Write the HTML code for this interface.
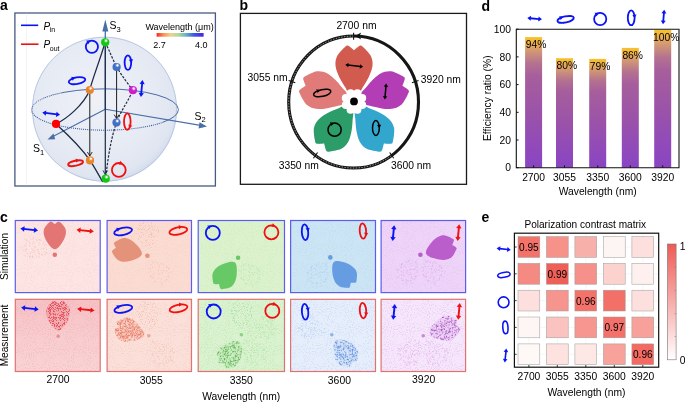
<!DOCTYPE html><html><head><meta charset="utf-8"><style>html,body{margin:0;padding:0;background:#fff;}svg{display:block;will-change:transform;}</style></head><body>
<svg width="685" height="403" viewBox="0 0 685 403" font-family="Liberation Sans, sans-serif">
<defs>
<radialGradient id="sph" cx="0.45" cy="0.42" r="0.6">
 <stop offset="0" stop-color="#eff1f7"/><stop offset="0.6" stop-color="#e7ebf4"/><stop offset="0.9" stop-color="#e0e6f1"/><stop offset="0.975" stop-color="#d5ddee"/><stop offset="1" stop-color="#c8d3ea"/>
</radialGradient>
<linearGradient id="wl" x1="0" x2="1" y1="0" y2="0">
 <stop offset="0" stop-color="#ff2424"/><stop offset="0.15" stop-color="#f89458"/><stop offset="0.3" stop-color="#f0d090"/><stop offset="0.46" stop-color="#b4d6a0"/><stop offset="0.62" stop-color="#68b4c4"/><stop offset="0.8" stop-color="#3a58e4"/><stop offset="1" stop-color="#4a22e0"/>
</linearGradient>
<linearGradient id="bar" x1="0" x2="0" y1="0" y2="1">
 <stop offset="0" stop-color="#f9c224"/><stop offset="0.025" stop-color="#f2b83e"/><stop offset="0.1" stop-color="#d49a72"/><stop offset="0.2" stop-color="#b47290"/><stop offset="0.3" stop-color="#a65e9c"/><stop offset="0.6" stop-color="#9a52aa"/><stop offset="1" stop-color="#8a44c4"/>
</linearGradient>
<linearGradient id="cb" x1="0" x2="0" y1="0" y2="1">
 <stop offset="0" stop-color="#ee5b55"/><stop offset="1" stop-color="#ffffff"/>
</linearGradient>

<radialGradient id="bR" cx="0.6" cy="0.3" r="0.6" fx="0.6" fy="0.3"><stop offset="0" stop-color="#ffffff"/><stop offset="0.12" stop-color="#ffffff" stop-opacity="0.9"/><stop offset="0.3" stop-color="#ff2020"/><stop offset="0.5" stop-color="#ff0000"/><stop offset="1" stop-color="#ff0000"/></radialGradient>
<radialGradient id="bO" cx="0.6" cy="0.3" r="0.6" fx="0.6" fy="0.3"><stop offset="0" stop-color="#ffffff"/><stop offset="0.12" stop-color="#ffffff" stop-opacity="0.9"/><stop offset="0.3" stop-color="#f0a060"/><stop offset="0.5" stop-color="#e8842c"/><stop offset="1" stop-color="#e8842c"/></radialGradient>
<radialGradient id="bG" cx="0.6" cy="0.3" r="0.6" fx="0.6" fy="0.3"><stop offset="0" stop-color="#ffffff"/><stop offset="0.12" stop-color="#ffffff" stop-opacity="0.9"/><stop offset="0.3" stop-color="#50e050"/><stop offset="0.5" stop-color="#12c812"/><stop offset="1" stop-color="#12c812"/></radialGradient>
<radialGradient id="bB" cx="0.6" cy="0.3" r="0.6" fx="0.6" fy="0.3"><stop offset="0" stop-color="#ffffff"/><stop offset="0.12" stop-color="#ffffff" stop-opacity="0.9"/><stop offset="0.3" stop-color="#7898d8"/><stop offset="0.5" stop-color="#4070c4"/><stop offset="1" stop-color="#4070c4"/></radialGradient>
<radialGradient id="bM" cx="0.6" cy="0.3" r="0.6" fx="0.6" fy="0.3"><stop offset="0" stop-color="#ffffff"/><stop offset="0.12" stop-color="#ffffff" stop-opacity="0.9"/><stop offset="0.3" stop-color="#e060e0"/><stop offset="0.5" stop-color="#cc1ccc"/><stop offset="1" stop-color="#cc1ccc"/></radialGradient>
<filter id="spkA" x="-20%" y="-20%" width="140%" height="140%" color-interpolation-filters="sRGB">
  <feTurbulence type="fractalNoise" baseFrequency="0.85" numOctaves="1" seed="3" result="n"/>
  <feColorMatrix in="n" type="matrix" values="0 0 0 0 0  0 0 0 0 0  0 0 0 0 0  12 0 0 0 -5.3" result="m"/>
  <feComposite in="SourceGraphic" in2="m" operator="in" result="c"/>
  <feGaussianBlur in="c" stdDeviation="0.4"/>
</filter>
<filter id="spkB" x="-20%" y="-20%" width="140%" height="140%" color-interpolation-filters="sRGB">
  <feTurbulence type="fractalNoise" baseFrequency="0.9" numOctaves="1" seed="11" result="n"/>
  <feColorMatrix in="n" type="matrix" values="0 0 0 0 0  0 0 0 0 0  0 0 0 0 0  12 0 0 0 -6.9" result="m"/>
  <feComposite in="SourceGraphic" in2="m" operator="in" result="c"/>
  <feGaussianBlur in="c" stdDeviation="0.25"/>
</filter>
<filter id="spkC" x="0" y="0" width="100%" height="100%" color-interpolation-filters="sRGB">
  <feTurbulence type="fractalNoise" baseFrequency="0.95" numOctaves="1" seed="5" result="n"/>
  <feColorMatrix in="n" type="matrix" values="0 0 0 0 0  0 0 0 0 0  0 0 0 0 0  10 0 0 0 -5.5" result="m"/>
  <feComposite in="SourceGraphic" in2="m" operator="in" result="c"/>
  <feGaussianBlur in="c" stdDeviation="0.45"/>
</filter>
<filter id="spkD" x="-20%" y="-20%" width="140%" height="140%" color-interpolation-filters="sRGB">
  <feTurbulence type="fractalNoise" baseFrequency="0.85" numOctaves="1" seed="21" result="n"/>
  <feColorMatrix in="n" type="matrix" values="0 0 0 0 0  0 0 0 0 0  0 0 0 0 0  12 0 0 0 -5.9" result="m"/>
  <feComposite in="SourceGraphic" in2="m" operator="in" result="c"/>
  <feGaussianBlur in="c" stdDeviation="0.4"/>
</filter>
<filter id="spkE" x="-20%" y="-20%" width="140%" height="140%" color-interpolation-filters="sRGB">
  <feTurbulence type="fractalNoise" baseFrequency="0.85" numOctaves="1" seed="33" result="n"/>
  <feColorMatrix in="n" type="matrix" values="0 0 0 0 0  0 0 0 0 0  0 0 0 0 0  12 0 0 0 -6.4" result="m"/>
  <feComposite in="SourceGraphic" in2="m" operator="in" result="c"/>
  <feGaussianBlur in="c" stdDeviation="0.4"/>
</filter>

<linearGradient id="m1g" x1="0" x2="0" y1="0" y2="1"><stop offset="0" stop-color="#f0a0a8" stop-opacity="0.35"/><stop offset="0.6" stop-color="#f0a0a8" stop-opacity="0.1"/><stop offset="1" stop-color="#f0a0a8" stop-opacity="0"/></linearGradient>
</defs>
<text x="0" y="10.4" font-size="14" font-weight="bold">a</text>
<rect x="14.9" y="13" width="200.5" height="173" fill="#fff" stroke="#465a82" stroke-width="1.3"/>
<line x1="26.5" y1="13.6" x2="26.5" y2="185.4" stroke="#ececf0" stroke-width="0.6"/>
<circle cx="104.5" cy="109.2" r="72.5" fill="url(#sph)"/>
<circle cx="104.5" cy="109.2" r="72" fill="none" stroke="#b4c4e2" stroke-width="0.9"/>
<path d="M31.5,109.5 A73.45,20.65 0 0 1 178.4,109.5" fill="none" stroke="#3a5c9c" stroke-width="0.9"/>
<path d="M31.5,109.5 A73.45,20.65 0 0 0 163,122.2" fill="none" stroke="#3a5c9c" stroke-width="1.1" stroke-dasharray="1 1"/>
<path d="M163,122.2 A73.45,20.65 0 0 0 178.4,109.5" fill="none" stroke="#3a5c9c" stroke-width="0.9"/>
<path d="M31.5,109.5 A73.45,20.65 0 0 1 62,93" fill="none" stroke="#e8ecf5" stroke-width="1.1" stroke-dasharray="1 1"/>
<line x1="105.3" y1="109.2" x2="51" y2="137.6" stroke="#4a6ea8" stroke-width="1.1"/>
<polygon points="47.5,139.4 53.5,133.6 55.2,139.2" fill="#4a6ea8"/>
<line x1="105.3" y1="109.2" x2="202" y2="125.6" stroke="#4a6ea8" stroke-width="1.1"/>
<polygon points="207,126.6 199.5,122.2 198.6,128.4" fill="#4a6ea8"/>
<line x1="105.3" y1="109.2" x2="105.3" y2="28" stroke="#4a6ea8" stroke-width="1.3"/>
<polygon points="105.3,19.5 102.3,31.5 108.3,31.5" fill="#4a6ea8"/>
<text x="109.6" y="29" font-size="10.5">S<tspan font-size="7.5" dy="2.6">3</tspan></text>
<text x="194.6" y="119.6" font-size="10.5">S<tspan font-size="7.5" dy="2.6">2</tspan></text>
<text x="32.9" y="152.3" font-size="10.5">S<tspan font-size="7.5" dy="2.6">1</tspan></text>
<path d="M56,124 C66,119 83,106 89.8,90 C92,80 100,60 105,42.6" fill="none" stroke="#1c2a44" stroke-width="1.3"/>
<path d="M56,124 C66,133 82,149 90,160.4 C95,168 99.5,176.5 102.8,182" fill="none" stroke="#1c2a44" stroke-width="1.3"/>
<path d="M105.2,42.3 C110,52 113,60 116.7,67 C122,76 128,84 132.9,90.2 C128,102 120,112 116.5,122.6 C111,138 107.5,160 105.7,178.7" fill="none" stroke="#1c2a44" stroke-width="1.2" stroke-dasharray="2.4 1.4"/>
<line x1="89.8" y1="90" x2="89.8" y2="155.5" stroke="#1e1e1e" stroke-width="1"/><polyline points="87.39999999999999,152 89.8,156 92.2,152" fill="none" stroke="#1e1e1e" stroke-width="0.9"/>
<line x1="116.6" y1="67" x2="116.6" y2="118.1" stroke="#1e1e1e" stroke-width="1"/><polyline points="114.19999999999999,114.6 116.6,118.6 119.0,114.6" fill="none" stroke="#1e1e1e" stroke-width="0.9"/>
<line x1="105.3" y1="42" x2="105.3" y2="174.5" stroke="#1c2a44" stroke-width="1.2"/>
<polyline points="103,170.5 105.3,174.5 107.6,170.5" fill="none" stroke="#1c2a44" stroke-width="0.9"/>
<circle cx="56" cy="123.9" r="4.1" fill="#ff0000"/>
<circle cx="89.8" cy="90" r="4.1" fill="url(#bO)"/>
<circle cx="90" cy="160.4" r="4.1" fill="url(#bO)"/>
<circle cx="105.2" cy="42.3" r="4.1" fill="url(#bG)"/>
<circle cx="105.7" cy="178.7" r="4.1" fill="url(#bG)"/>
<circle cx="116.6" cy="67" r="4.1" fill="url(#bB)"/>
<circle cx="116.5" cy="122.6" r="4.1" fill="url(#bB)"/>
<circle cx="132.9" cy="90.2" r="4.1" fill="url(#bM)"/>
<ellipse cx="91.9" cy="46.7" rx="6.1" ry="6.1" transform="rotate(0 91.9 46.7)" fill="none" stroke="#0a14f5" stroke-width="1.8"/><polygon points="90.41,40.52 88.34,44.14 86.24,40.50" fill="#0a14f5"/>
<ellipse cx="77" cy="80.7" rx="8.4" ry="3.3" transform="rotate(-10 77 80.7)" fill="none" stroke="#0a14f5" stroke-width="1.8"/><polygon points="75.34,77.58 72.58,80.70 71.27,76.71" fill="#0a14f5"/>
<ellipse cx="127.9" cy="62.6" rx="3.3" ry="7.3" transform="rotate(0 127.9 62.6)" fill="none" stroke="#0a14f5" stroke-width="1.8"/><polygon points="131.29,63.13 128.91,59.70 133.10,59.37" fill="#0a14f5"/>
<line x1="142.21" y1="83.13" x2="141.19" y2="93.87" stroke="#0a14f5" stroke-width="1.8"/><polygon points="140.90,96.90 138.67,92.87 143.85,93.36" fill="#0a14f5"/><polygon points="142.50,80.10 139.55,83.64 144.73,84.13" fill="#0a14f5"/>
<line x1="45.32" y1="112.97" x2="56.98" y2="114.43" stroke="#0a14f5" stroke-width="1.8"/><polygon points="60.00,114.80 55.91,116.91 56.55,111.75" fill="#0a14f5"/><polygon points="42.30,112.60 45.75,115.65 46.39,110.49" fill="#0a14f5"/>
<ellipse cx="127.3" cy="121.6" rx="3.3" ry="8.2" transform="rotate(0 127.3 121.6)" fill="none" stroke="#f01010" stroke-width="1.8"/><polygon points="129.25,128.58 128.41,124.49 132.39,125.84" fill="#f01010"/>
<ellipse cx="118.8" cy="169.9" rx="6.9" ry="6.9" transform="rotate(0 118.8 169.9)" fill="none" stroke="#f01010" stroke-width="1.8"/><polygon points="122.85,164.03 118.75,164.77 120.19,160.83" fill="#f01010"/>
<ellipse cx="75.6" cy="163.2" rx="7.6" ry="2.5" transform="rotate(-12 75.6 163.2)" fill="none" stroke="#f01010" stroke-width="1.8"/><polygon points="79.45,160.20 76.05,162.62 75.67,158.43" fill="#f01010"/>
<line x1="21" y1="25.3" x2="38.2" y2="25.3" stroke="#0a14f5" stroke-width="1.6"/>
<line x1="21" y1="44.2" x2="38.5" y2="44.2" stroke="#f01010" stroke-width="1.6"/>
<text x="43.4" y="29.8" font-size="10" font-style="italic">P</text><text x="49.8" y="32.4" font-size="7">in</text>
<text x="43.4" y="48.4" font-size="10" font-style="italic">P</text><text x="49.8" y="51.1" font-size="7">out</text>
<text x="145.4" y="29.8" font-size="9">Wavelength (μm)</text>
<rect x="156.6" y="33" width="47" height="3.7" fill="url(#wl)"/>
<text x="153.3" y="47.9" font-size="9">2.7</text><text x="195" y="47.9" font-size="9">4.0</text>
<text x="239.5" y="10" font-size="14" font-weight="bold">b</text>
<rect x="240.4" y="13.4" width="226.1" height="170.9" fill="none" stroke="#1a1a1a" stroke-width="1.3"/>
<path d="M0.00,-7.50 C-1.87,-7.50 -4.17,-8.12 -5.60,-9.20 C-7.03,-10.28 -7.60,-12.40 -8.60,-14.00 C-9.60,-15.60 -10.57,-17.05 -11.60,-18.80 C-12.63,-20.55 -13.77,-22.30 -14.80,-24.50 C-15.83,-26.70 -17.17,-29.67 -17.80,-32.00 C-18.43,-34.33 -18.70,-36.42 -18.60,-38.50 C-18.50,-40.58 -18.05,-42.67 -17.20,-44.50 C-16.35,-46.33 -14.78,-48.00 -13.50,-49.50 C-12.22,-51.00 -10.58,-52.50 -9.50,-53.50 C-8.42,-54.50 -7.83,-55.33 -7.00,-55.50 C-6.17,-55.67 -5.33,-55.00 -4.50,-54.50 C-3.67,-54.00 -2.75,-53.12 -2.00,-52.50 C-1.25,-51.88 -0.33,-51.08 0.00,-50.80 C0.33,-51.08 1.25,-51.88 2.00,-52.50 C2.75,-53.12 3.67,-54.00 4.50,-54.50 C5.33,-55.00 6.17,-55.67 7.00,-55.50 C7.83,-55.33 8.42,-54.50 9.50,-53.50 C10.58,-52.50 12.22,-51.00 13.50,-49.50 C14.78,-48.00 16.35,-46.33 17.20,-44.50 C18.05,-42.67 18.50,-40.58 18.60,-38.50 C18.70,-36.42 18.43,-34.33 17.80,-32.00 C17.17,-29.67 15.83,-26.70 14.80,-24.50 C13.77,-22.30 12.63,-20.55 11.60,-18.80 C10.57,-17.05 9.60,-15.60 8.60,-14.00 C7.60,-12.40 7.03,-10.28 5.60,-9.20 C4.17,-8.12 1.87,-7.50 0.00,-7.50 Z" fill="#d15b4f" transform="translate(354 101.8) scale(1 1.015) rotate(0)"/>
<path d="M0.00,-7.50 C-1.87,-7.50 -4.17,-8.12 -5.60,-9.20 C-7.03,-10.28 -7.60,-12.40 -8.60,-14.00 C-9.60,-15.60 -10.57,-17.05 -11.60,-18.80 C-12.63,-20.55 -13.77,-22.30 -14.80,-24.50 C-15.83,-26.70 -17.17,-29.67 -17.80,-32.00 C-18.43,-34.33 -18.70,-36.42 -18.60,-38.50 C-18.50,-40.58 -18.05,-42.67 -17.20,-44.50 C-16.35,-46.33 -14.78,-48.00 -13.50,-49.50 C-12.22,-51.00 -10.58,-52.50 -9.50,-53.50 C-8.42,-54.50 -7.83,-55.33 -7.00,-55.50 C-6.17,-55.67 -5.33,-55.00 -4.50,-54.50 C-3.67,-54.00 -2.75,-53.12 -2.00,-52.50 C-1.25,-51.88 -0.33,-51.08 0.00,-50.80 C0.33,-51.08 1.25,-51.88 2.00,-52.50 C2.75,-53.12 3.67,-54.00 4.50,-54.50 C5.33,-55.00 6.17,-55.67 7.00,-55.50 C7.83,-55.33 8.42,-54.50 9.50,-53.50 C10.58,-52.50 12.22,-51.00 13.50,-49.50 C14.78,-48.00 16.35,-46.33 17.20,-44.50 C18.05,-42.67 18.50,-40.58 18.60,-38.50 C18.70,-36.42 18.43,-34.33 17.80,-32.00 C17.17,-29.67 15.83,-26.70 14.80,-24.50 C13.77,-22.30 12.63,-20.55 11.60,-18.80 C10.57,-17.05 9.60,-15.60 8.60,-14.00 C7.60,-12.40 7.03,-10.28 5.60,-9.20 C4.17,-8.12 1.87,-7.50 0.00,-7.50 Z" fill="#b23db5" transform="translate(354 101.8) scale(1 1.015) rotate(72)"/>
<path d="M0.00,-7.50 C-1.87,-7.50 -4.17,-8.12 -5.60,-9.20 C-7.03,-10.28 -7.60,-12.40 -8.60,-14.00 C-9.60,-15.60 -10.57,-17.05 -11.60,-18.80 C-12.63,-20.55 -13.77,-22.30 -14.80,-24.50 C-15.83,-26.70 -17.17,-29.67 -17.80,-32.00 C-18.43,-34.33 -18.70,-36.42 -18.60,-38.50 C-18.50,-40.58 -18.05,-42.67 -17.20,-44.50 C-16.35,-46.33 -14.78,-48.00 -13.50,-49.50 C-12.22,-51.00 -10.58,-52.50 -9.50,-53.50 C-8.42,-54.50 -7.83,-55.33 -7.00,-55.50 C-6.17,-55.67 -5.33,-55.00 -4.50,-54.50 C-3.67,-54.00 -2.75,-53.12 -2.00,-52.50 C-1.25,-51.88 -0.33,-51.08 0.00,-50.80 C0.33,-51.08 1.25,-51.88 2.00,-52.50 C2.75,-53.12 3.67,-54.00 4.50,-54.50 C5.33,-55.00 6.17,-55.67 7.00,-55.50 C7.83,-55.33 8.42,-54.50 9.50,-53.50 C10.58,-52.50 12.22,-51.00 13.50,-49.50 C14.78,-48.00 16.35,-46.33 17.20,-44.50 C18.05,-42.67 18.50,-40.58 18.60,-38.50 C18.70,-36.42 18.43,-34.33 17.80,-32.00 C17.17,-29.67 15.83,-26.70 14.80,-24.50 C13.77,-22.30 12.63,-20.55 11.60,-18.80 C10.57,-17.05 9.60,-15.60 8.60,-14.00 C7.60,-12.40 7.03,-10.28 5.60,-9.20 C4.17,-8.12 1.87,-7.50 0.00,-7.50 Z" fill="#32a6cd" transform="translate(354 101.8) scale(1 1.015) rotate(144)"/>
<path d="M0.00,-7.50 C-1.87,-7.50 -4.17,-8.12 -5.60,-9.20 C-7.03,-10.28 -7.60,-12.40 -8.60,-14.00 C-9.60,-15.60 -10.57,-17.05 -11.60,-18.80 C-12.63,-20.55 -13.77,-22.30 -14.80,-24.50 C-15.83,-26.70 -17.17,-29.67 -17.80,-32.00 C-18.43,-34.33 -18.70,-36.42 -18.60,-38.50 C-18.50,-40.58 -18.05,-42.67 -17.20,-44.50 C-16.35,-46.33 -14.78,-48.00 -13.50,-49.50 C-12.22,-51.00 -10.58,-52.50 -9.50,-53.50 C-8.42,-54.50 -7.83,-55.33 -7.00,-55.50 C-6.17,-55.67 -5.33,-55.00 -4.50,-54.50 C-3.67,-54.00 -2.75,-53.12 -2.00,-52.50 C-1.25,-51.88 -0.33,-51.08 0.00,-50.80 C0.33,-51.08 1.25,-51.88 2.00,-52.50 C2.75,-53.12 3.67,-54.00 4.50,-54.50 C5.33,-55.00 6.17,-55.67 7.00,-55.50 C7.83,-55.33 8.42,-54.50 9.50,-53.50 C10.58,-52.50 12.22,-51.00 13.50,-49.50 C14.78,-48.00 16.35,-46.33 17.20,-44.50 C18.05,-42.67 18.50,-40.58 18.60,-38.50 C18.70,-36.42 18.43,-34.33 17.80,-32.00 C17.17,-29.67 15.83,-26.70 14.80,-24.50 C13.77,-22.30 12.63,-20.55 11.60,-18.80 C10.57,-17.05 9.60,-15.60 8.60,-14.00 C7.60,-12.40 7.03,-10.28 5.60,-9.20 C4.17,-8.12 1.87,-7.50 0.00,-7.50 Z" fill="#2c9c69" transform="translate(354 101.8) scale(1 1.015) rotate(216)"/>
<path d="M0.00,-7.50 C-1.87,-7.50 -4.17,-8.12 -5.60,-9.20 C-7.03,-10.28 -7.60,-12.40 -8.60,-14.00 C-9.60,-15.60 -10.57,-17.05 -11.60,-18.80 C-12.63,-20.55 -13.77,-22.30 -14.80,-24.50 C-15.83,-26.70 -17.17,-29.67 -17.80,-32.00 C-18.43,-34.33 -18.70,-36.42 -18.60,-38.50 C-18.50,-40.58 -18.05,-42.67 -17.20,-44.50 C-16.35,-46.33 -14.78,-48.00 -13.50,-49.50 C-12.22,-51.00 -10.58,-52.50 -9.50,-53.50 C-8.42,-54.50 -7.83,-55.33 -7.00,-55.50 C-6.17,-55.67 -5.33,-55.00 -4.50,-54.50 C-3.67,-54.00 -2.75,-53.12 -2.00,-52.50 C-1.25,-51.88 -0.33,-51.08 0.00,-50.80 C0.33,-51.08 1.25,-51.88 2.00,-52.50 C2.75,-53.12 3.67,-54.00 4.50,-54.50 C5.33,-55.00 6.17,-55.67 7.00,-55.50 C7.83,-55.33 8.42,-54.50 9.50,-53.50 C10.58,-52.50 12.22,-51.00 13.50,-49.50 C14.78,-48.00 16.35,-46.33 17.20,-44.50 C18.05,-42.67 18.50,-40.58 18.60,-38.50 C18.70,-36.42 18.43,-34.33 17.80,-32.00 C17.17,-29.67 15.83,-26.70 14.80,-24.50 C13.77,-22.30 12.63,-20.55 11.60,-18.80 C10.57,-17.05 9.60,-15.60 8.60,-14.00 C7.60,-12.40 7.03,-10.28 5.60,-9.20 C4.17,-8.12 1.87,-7.50 0.00,-7.50 Z" fill="#e07b79" transform="translate(354 101.8) scale(1 1.015) rotate(288)"/>
<g fill="#fff" transform="translate(354 101.5)"><circle r="9.8"/><circle cx="8.22" cy="3.41" r="4.0"/><circle cx="3.41" cy="8.22" r="4.0"/><circle cx="-3.41" cy="8.22" r="4.0"/><circle cx="-8.22" cy="3.41" r="4.0"/><circle cx="-8.22" cy="-3.41" r="4.0"/><circle cx="-3.41" cy="-8.22" r="4.0"/><circle cx="3.41" cy="-8.22" r="4.0"/><circle cx="8.22" cy="-3.41" r="4.0"/></g>
<circle cx="354" cy="101.39999999999999" r="3.9" fill="#000"/>
<ellipse cx="353.6" cy="102.05" rx="64.9" ry="66.0" fill="none" stroke="#161616" stroke-width="3.1"/>
<path d="M353.6,36.05 A64.9,66.0 0 1 0 391.75,155.45" fill="none" stroke="#ffffff" stroke-width="0.8" stroke-dasharray="1.3 1.5" opacity="0.75"/>
<line x1="353.60" y1="39.65" x2="353.60" y2="32.65" stroke="#111" stroke-width="1.1"/>
<line x1="411.90" y1="82.77" x2="418.56" y2="80.60" stroke="#111" stroke-width="1.1"/>
<line x1="389.63" y1="152.53" x2="393.75" y2="158.20" stroke="#111" stroke-width="1.1"/>
<line x1="317.57" y1="152.53" x2="313.45" y2="158.20" stroke="#111" stroke-width="1.1"/>
<line x1="295.30" y1="82.77" x2="288.64" y2="80.60" stroke="#111" stroke-width="1.1"/>
<polygon points="354.9,36 361.2,32.6 359.4,36 361.2,39.6" fill="#111"/>
<text x="336.4" y="28.8" font-size="10.3">2700 nm</text>
<text x="247.5" y="80.5" font-size="10.3">3055 nm</text>
<text x="420.8" y="83" font-size="10.3">3920 nm</text>
<text x="278.7" y="169" font-size="10.3">3350 nm</text>
<text x="391.1" y="169" font-size="10.3">3600 nm</text>
<line x1="347.84" y1="65.09" x2="360.56" y2="66.51" stroke="#000" stroke-width="1.5"/><polygon points="363.10,66.80 359.67,68.63 360.17,64.26" fill="#000"/><polygon points="345.30,64.80 348.23,67.34 348.73,62.97" fill="#000"/>
<ellipse cx="322.2" cy="93" rx="8.8" ry="3.4" transform="rotate(-12 322.2 93)" fill="none" stroke="#000" stroke-width="1.5"/><polygon points="320.28,89.88 317.62,93.09 316.18,89.14" fill="#000"/>
<line x1="385.98" y1="86.15" x2="385.02" y2="96.95" stroke="#000" stroke-width="1.5"/><polygon points="384.80,99.50 382.89,96.12 387.27,96.51" fill="#000"/><polygon points="386.20,83.60 383.73,86.59 388.11,86.98" fill="#000"/>
<ellipse cx="334.6" cy="129.7" rx="6.6" ry="6.6" transform="rotate(0 334.6 129.7)" fill="none" stroke="#000" stroke-width="1.5"/><polygon points="334.03,122.88 331.37,126.09 329.93,122.14" fill="#000"/>
<ellipse cx="375.9" cy="128" rx="3.4" ry="7.4" transform="rotate(0 375.9 128)" fill="none" stroke="#000" stroke-width="1.5"/><polygon points="379.39,128.51 377.01,125.09 381.20,124.75" fill="#000"/>
<text x="481.5" y="10.7" font-size="14" font-weight="bold">d</text>
<rect x="525.1" y="37.1" width="17" height="130.60" fill="url(#bar)"/>
<text x="525.7" y="47.70" font-size="10.3">94%</text>
<rect x="556" y="58.2" width="17" height="109.50" fill="url(#bar)"/>
<text x="556.6" y="68.80" font-size="10.3">80%</text>
<rect x="589.2" y="58.9" width="17" height="108.80" fill="url(#bar)"/>
<text x="589.8000000000001" y="69.50" font-size="10.3">79%</text>
<rect x="621.8" y="47.9" width="17" height="119.80" fill="url(#bar)"/>
<text x="622.4" y="58.50" font-size="10.3">86%</text>
<rect x="654.2" y="30.0" width="17" height="137.70" fill="url(#bar)"/>
<text x="653" y="40.60" font-size="10.3">100%</text>
<path d="M516.3,29.2 L516.3,167.7 L679,167.7 L679,29.2 Z" fill="none" stroke="#111" stroke-width="1.1"/>
<line x1="516.3" y1="167.70" x2="518.6" y2="167.70" stroke="#111" stroke-width="1"/>
<text x="511" y="171.30" font-size="10.3" text-anchor="end">0</text>
<line x1="516.3" y1="140.00" x2="518.6" y2="140.00" stroke="#111" stroke-width="1"/>
<text x="511" y="143.60" font-size="10.3" text-anchor="end">20</text>
<line x1="516.3" y1="112.30" x2="518.6" y2="112.30" stroke="#111" stroke-width="1"/>
<text x="511" y="115.90" font-size="10.3" text-anchor="end">40</text>
<line x1="516.3" y1="84.60" x2="518.6" y2="84.60" stroke="#111" stroke-width="1"/>
<text x="511" y="88.20" font-size="10.3" text-anchor="end">60</text>
<line x1="516.3" y1="56.90" x2="518.6" y2="56.90" stroke="#111" stroke-width="1"/>
<text x="511" y="60.50" font-size="10.3" text-anchor="end">80</text>
<line x1="516.3" y1="29.20" x2="518.6" y2="29.20" stroke="#111" stroke-width="1"/>
<text x="511" y="32.80" font-size="10.3" text-anchor="end">100</text>
<line x1="533.6" y1="167.7" x2="533.6" y2="165.4" stroke="#111" stroke-width="1"/>
<text x="533.6" y="180.5" font-size="10.3" text-anchor="middle">2700</text>
<line x1="564.5" y1="167.7" x2="564.5" y2="165.4" stroke="#111" stroke-width="1"/>
<text x="564.5" y="180.5" font-size="10.3" text-anchor="middle">3055</text>
<line x1="597.7" y1="167.7" x2="597.7" y2="165.4" stroke="#111" stroke-width="1"/>
<text x="597.7" y="180.5" font-size="10.3" text-anchor="middle">3350</text>
<line x1="630.3" y1="167.7" x2="630.3" y2="165.4" stroke="#111" stroke-width="1"/>
<text x="630.3" y="180.5" font-size="10.3" text-anchor="middle">3600</text>
<line x1="662.7" y1="167.7" x2="662.7" y2="165.4" stroke="#111" stroke-width="1"/>
<text x="662.7" y="180.5" font-size="10.3" text-anchor="middle">3920</text>
<text x="597.7" y="195" font-size="10.3" text-anchor="middle">Wavelength (nm)</text>
<text transform="translate(491,98.2) rotate(-90)" font-size="10.3" text-anchor="middle">Efficiency ratio (%)</text>
<line x1="530.17" y1="18.25" x2="539.13" y2="19.05" stroke="#0a14f5" stroke-width="1.8"/><polygon points="542.00,19.30 538.19,21.47 538.63,16.49" fill="#0a14f5"/><polygon points="527.30,18.00 530.67,20.81 531.11,15.83" fill="#0a14f5"/>
<ellipse cx="565.6" cy="19.4" rx="8.3" ry="3.0" transform="rotate(-12 565.6 19.4)" fill="none" stroke="#0a14f5" stroke-width="1.8"/><polygon points="563.28,16.81 560.70,20.08 559.16,16.18" fill="#0a14f5"/>
<ellipse cx="600.2" cy="19.0" rx="6.1" ry="6.1" transform="rotate(0 600.2 19.0)" fill="none" stroke="#0a14f5" stroke-width="1.8"/><polygon points="598.71,12.82 596.64,16.44 594.54,12.80" fill="#0a14f5"/>
<ellipse cx="631.2" cy="17.8" rx="3.4" ry="7.4" transform="rotate(0 631.2 17.8)" fill="none" stroke="#0a14f5" stroke-width="1.8"/><polygon points="634.69,18.31 632.31,14.89 636.50,14.55" fill="#0a14f5"/>
<line x1="663.96" y1="12.67" x2="663.24" y2="21.33" stroke="#0a14f5" stroke-width="1.8"/><polygon points="663.00,24.20 660.81,20.40 665.79,20.82" fill="#0a14f5"/><polygon points="664.20,9.80 661.41,13.18 666.39,13.60" fill="#0a14f5"/>
<text x="0" y="221.7" font-size="14" font-weight="bold">c</text>
<text transform="translate(7.8,256.5) rotate(-90)" font-size="10.1" text-anchor="middle">Simulation</text>
<text transform="translate(7.8,335.5) rotate(-90)" font-size="10.1" text-anchor="middle">Measurement</text>
<rect x="15.3" y="220.5" width="84.9" height="72.1" fill="#fce5e3"/>
<rect x="15.3" y="220.5" width="84.9" height="72.1" fill="#e37675" opacity="0.07" filter="url(#spkC)"/>
<path d="M0.00,-9.00 C-1.50,-9.00 -2.83,-9.67 -4.50,-11.00 C-6.17,-12.33 -8.28,-14.75 -10.00,-17.00 C-11.72,-19.25 -13.50,-22.00 -14.80,-24.50 C-16.10,-27.00 -17.17,-29.67 -17.80,-32.00 C-18.43,-34.33 -18.70,-36.42 -18.60,-38.50 C-18.50,-40.58 -18.05,-42.67 -17.20,-44.50 C-16.35,-46.33 -14.78,-48.00 -13.50,-49.50 C-12.22,-51.00 -10.58,-52.50 -9.50,-53.50 C-8.42,-54.50 -7.83,-55.33 -7.00,-55.50 C-6.17,-55.67 -5.33,-55.00 -4.50,-54.50 C-3.67,-54.00 -2.75,-53.12 -2.00,-52.50 C-1.25,-51.88 -0.33,-51.08 0.00,-50.80 C0.33,-51.08 1.25,-51.88 2.00,-52.50 C2.75,-53.12 3.67,-54.00 4.50,-54.50 C5.33,-55.00 6.17,-55.67 7.00,-55.50 C7.83,-55.33 8.42,-54.50 9.50,-53.50 C10.58,-52.50 12.22,-51.00 13.50,-49.50 C14.78,-48.00 16.35,-46.33 17.20,-44.50 C18.05,-42.67 18.50,-40.58 18.60,-38.50 C18.70,-36.42 18.43,-34.33 17.80,-32.00 C17.17,-29.67 16.10,-27.00 14.80,-24.50 C13.50,-22.00 11.72,-19.25 10.00,-17.00 C8.28,-14.75 6.17,-12.33 4.50,-11.00 C2.83,-9.67 1.50,-9.00 0.00,-9.00 Z" fill="#e37675" opacity="0.3" filter="url(#spkB)" transform="translate(54.8 254.7) scale(0.62) rotate(288)"/>
<path d="M0.00,-9.00 C-1.50,-9.00 -2.83,-9.67 -4.50,-11.00 C-6.17,-12.33 -8.28,-14.75 -10.00,-17.00 C-11.72,-19.25 -13.50,-22.00 -14.80,-24.50 C-16.10,-27.00 -17.17,-29.67 -17.80,-32.00 C-18.43,-34.33 -18.70,-36.42 -18.60,-38.50 C-18.50,-40.58 -18.05,-42.67 -17.20,-44.50 C-16.35,-46.33 -14.78,-48.00 -13.50,-49.50 C-12.22,-51.00 -10.58,-52.50 -9.50,-53.50 C-8.42,-54.50 -7.83,-55.33 -7.00,-55.50 C-6.17,-55.67 -5.33,-55.00 -4.50,-54.50 C-3.67,-54.00 -2.75,-53.12 -2.00,-52.50 C-1.25,-51.88 -0.33,-51.08 0.00,-50.80 C0.33,-51.08 1.25,-51.88 2.00,-52.50 C2.75,-53.12 3.67,-54.00 4.50,-54.50 C5.33,-55.00 6.17,-55.67 7.00,-55.50 C7.83,-55.33 8.42,-54.50 9.50,-53.50 C10.58,-52.50 12.22,-51.00 13.50,-49.50 C14.78,-48.00 16.35,-46.33 17.20,-44.50 C18.05,-42.67 18.50,-40.58 18.60,-38.50 C18.70,-36.42 18.43,-34.33 17.80,-32.00 C17.17,-29.67 16.10,-27.00 14.80,-24.50 C13.50,-22.00 11.72,-19.25 10.00,-17.00 C8.28,-14.75 6.17,-12.33 4.50,-11.00 C2.83,-9.67 1.50,-9.00 0.00,-9.00 Z" fill="#e37675" transform="translate(54.8 254.7) scale(0.6) rotate(0)"/>
<circle cx="54.8" cy="254.7" r="2.3" fill="#e37675"/>
<rect x="15.3" y="220.5" width="84.9" height="72.1" fill="none" stroke="#5a5cf2" stroke-width="1.2"/>
<rect x="15.3" y="299.3" width="84.9" height="72.2" fill="#f9d3d5"/>
<rect x="15.3" y="299.3" width="84.9" height="72.2" fill="url(#m1g)"/>
<rect x="15.3" y="299.3" width="84.9" height="72.2" fill="#e37675" opacity="0.14" filter="url(#spkC)"/>
<path d="M0.00,-9.00 C-1.50,-9.00 -2.83,-9.67 -4.50,-11.00 C-6.17,-12.33 -8.28,-14.75 -10.00,-17.00 C-11.72,-19.25 -13.50,-22.00 -14.80,-24.50 C-16.10,-27.00 -17.17,-29.67 -17.80,-32.00 C-18.43,-34.33 -18.70,-36.42 -18.60,-38.50 C-18.50,-40.58 -18.05,-42.67 -17.20,-44.50 C-16.35,-46.33 -14.78,-48.00 -13.50,-49.50 C-12.22,-51.00 -10.58,-52.50 -9.50,-53.50 C-8.42,-54.50 -7.83,-55.33 -7.00,-55.50 C-6.17,-55.67 -5.33,-55.00 -4.50,-54.50 C-3.67,-54.00 -2.75,-53.12 -2.00,-52.50 C-1.25,-51.88 -0.33,-51.08 0.00,-50.80 C0.33,-51.08 1.25,-51.88 2.00,-52.50 C2.75,-53.12 3.67,-54.00 4.50,-54.50 C5.33,-55.00 6.17,-55.67 7.00,-55.50 C7.83,-55.33 8.42,-54.50 9.50,-53.50 C10.58,-52.50 12.22,-51.00 13.50,-49.50 C14.78,-48.00 16.35,-46.33 17.20,-44.50 C18.05,-42.67 18.50,-40.58 18.60,-38.50 C18.70,-36.42 18.43,-34.33 17.80,-32.00 C17.17,-29.67 16.10,-27.00 14.80,-24.50 C13.50,-22.00 11.72,-19.25 10.00,-17.00 C8.28,-14.75 6.17,-12.33 4.50,-11.00 C2.83,-9.67 1.50,-9.00 0.00,-9.00 Z" fill="#e37675" opacity="0.3" transform="translate(58.2 336.3) scale(0.64) rotate(0)"/>
<path d="M0.00,-9.00 C-1.50,-9.00 -2.83,-9.67 -4.50,-11.00 C-6.17,-12.33 -8.28,-14.75 -10.00,-17.00 C-11.72,-19.25 -13.50,-22.00 -14.80,-24.50 C-16.10,-27.00 -17.17,-29.67 -17.80,-32.00 C-18.43,-34.33 -18.70,-36.42 -18.60,-38.50 C-18.50,-40.58 -18.05,-42.67 -17.20,-44.50 C-16.35,-46.33 -14.78,-48.00 -13.50,-49.50 C-12.22,-51.00 -10.58,-52.50 -9.50,-53.50 C-8.42,-54.50 -7.83,-55.33 -7.00,-55.50 C-6.17,-55.67 -5.33,-55.00 -4.50,-54.50 C-3.67,-54.00 -2.75,-53.12 -2.00,-52.50 C-1.25,-51.88 -0.33,-51.08 0.00,-50.80 C0.33,-51.08 1.25,-51.88 2.00,-52.50 C2.75,-53.12 3.67,-54.00 4.50,-54.50 C5.33,-55.00 6.17,-55.67 7.00,-55.50 C7.83,-55.33 8.42,-54.50 9.50,-53.50 C10.58,-52.50 12.22,-51.00 13.50,-49.50 C14.78,-48.00 16.35,-46.33 17.20,-44.50 C18.05,-42.67 18.50,-40.58 18.60,-38.50 C18.70,-36.42 18.43,-34.33 17.80,-32.00 C17.17,-29.67 16.10,-27.00 14.80,-24.50 C13.50,-22.00 11.72,-19.25 10.00,-17.00 C8.28,-14.75 6.17,-12.33 4.50,-11.00 C2.83,-9.67 1.50,-9.00 0.00,-9.00 Z" fill="#e85262" filter="url(#spkD)" transform="translate(58.2 336.3) scale(0.64) rotate(0)"/>
<circle cx="58.2" cy="336.3" r="1.8" fill="#e37675" opacity="0.7"/>
<rect x="15.3" y="299.3" width="84.9" height="72.2" fill="none" stroke="#e07272" stroke-width="1.2"/>
<rect x="107.1" y="220.5" width="84.4" height="72.1" fill="#fbdcd2"/>
<rect x="107.1" y="220.5" width="84.4" height="72.1" fill="#e4927a" opacity="0.07" filter="url(#spkC)"/>
<path d="M0.00,-9.00 C-1.50,-9.00 -2.83,-9.67 -4.50,-11.00 C-6.17,-12.33 -8.28,-14.75 -10.00,-17.00 C-11.72,-19.25 -13.50,-22.00 -14.80,-24.50 C-16.10,-27.00 -17.17,-29.67 -17.80,-32.00 C-18.43,-34.33 -18.70,-36.42 -18.60,-38.50 C-18.50,-40.58 -18.05,-42.67 -17.20,-44.50 C-16.35,-46.33 -14.78,-48.00 -13.50,-49.50 C-12.22,-51.00 -10.58,-52.50 -9.50,-53.50 C-8.42,-54.50 -7.83,-55.33 -7.00,-55.50 C-6.17,-55.67 -5.33,-55.00 -4.50,-54.50 C-3.67,-54.00 -2.75,-53.12 -2.00,-52.50 C-1.25,-51.88 -0.33,-51.08 0.00,-50.80 C0.33,-51.08 1.25,-51.88 2.00,-52.50 C2.75,-53.12 3.67,-54.00 4.50,-54.50 C5.33,-55.00 6.17,-55.67 7.00,-55.50 C7.83,-55.33 8.42,-54.50 9.50,-53.50 C10.58,-52.50 12.22,-51.00 13.50,-49.50 C14.78,-48.00 16.35,-46.33 17.20,-44.50 C18.05,-42.67 18.50,-40.58 18.60,-38.50 C18.70,-36.42 18.43,-34.33 17.80,-32.00 C17.17,-29.67 16.10,-27.00 14.80,-24.50 C13.50,-22.00 11.72,-19.25 10.00,-17.00 C8.28,-14.75 6.17,-12.33 4.50,-11.00 C2.83,-9.67 1.50,-9.00 0.00,-9.00 Z" fill="#e4927a" opacity="0.3" filter="url(#spkB)" transform="translate(147.4 255.7) scale(0.62) rotate(0)"/>
<path d="M0.00,-9.00 C-1.50,-9.00 -2.83,-9.67 -4.50,-11.00 C-6.17,-12.33 -8.28,-14.75 -10.00,-17.00 C-11.72,-19.25 -13.50,-22.00 -14.80,-24.50 C-16.10,-27.00 -17.17,-29.67 -17.80,-32.00 C-18.43,-34.33 -18.70,-36.42 -18.60,-38.50 C-18.50,-40.58 -18.05,-42.67 -17.20,-44.50 C-16.35,-46.33 -14.78,-48.00 -13.50,-49.50 C-12.22,-51.00 -10.58,-52.50 -9.50,-53.50 C-8.42,-54.50 -7.83,-55.33 -7.00,-55.50 C-6.17,-55.67 -5.33,-55.00 -4.50,-54.50 C-3.67,-54.00 -2.75,-53.12 -2.00,-52.50 C-1.25,-51.88 -0.33,-51.08 0.00,-50.80 C0.33,-51.08 1.25,-51.88 2.00,-52.50 C2.75,-53.12 3.67,-54.00 4.50,-54.50 C5.33,-55.00 6.17,-55.67 7.00,-55.50 C7.83,-55.33 8.42,-54.50 9.50,-53.50 C10.58,-52.50 12.22,-51.00 13.50,-49.50 C14.78,-48.00 16.35,-46.33 17.20,-44.50 C18.05,-42.67 18.50,-40.58 18.60,-38.50 C18.70,-36.42 18.43,-34.33 17.80,-32.00 C17.17,-29.67 16.10,-27.00 14.80,-24.50 C13.50,-22.00 11.72,-19.25 10.00,-17.00 C8.28,-14.75 6.17,-12.33 4.50,-11.00 C2.83,-9.67 1.50,-9.00 0.00,-9.00 Z" fill="#e4927a" opacity="0.3" filter="url(#spkB)" transform="translate(147.4 255.7) scale(0.62) rotate(144)"/>
<path d="M0.00,-9.00 C-1.50,-9.00 -2.83,-9.67 -4.50,-11.00 C-6.17,-12.33 -8.28,-14.75 -10.00,-17.00 C-11.72,-19.25 -13.50,-22.00 -14.80,-24.50 C-16.10,-27.00 -17.17,-29.67 -17.80,-32.00 C-18.43,-34.33 -18.70,-36.42 -18.60,-38.50 C-18.50,-40.58 -18.05,-42.67 -17.20,-44.50 C-16.35,-46.33 -14.78,-48.00 -13.50,-49.50 C-12.22,-51.00 -10.58,-52.50 -9.50,-53.50 C-8.42,-54.50 -7.83,-55.33 -7.00,-55.50 C-6.17,-55.67 -5.33,-55.00 -4.50,-54.50 C-3.67,-54.00 -2.75,-53.12 -2.00,-52.50 C-1.25,-51.88 -0.33,-51.08 0.00,-50.80 C0.33,-51.08 1.25,-51.88 2.00,-52.50 C2.75,-53.12 3.67,-54.00 4.50,-54.50 C5.33,-55.00 6.17,-55.67 7.00,-55.50 C7.83,-55.33 8.42,-54.50 9.50,-53.50 C10.58,-52.50 12.22,-51.00 13.50,-49.50 C14.78,-48.00 16.35,-46.33 17.20,-44.50 C18.05,-42.67 18.50,-40.58 18.60,-38.50 C18.70,-36.42 18.43,-34.33 17.80,-32.00 C17.17,-29.67 16.10,-27.00 14.80,-24.50 C13.50,-22.00 11.72,-19.25 10.00,-17.00 C8.28,-14.75 6.17,-12.33 4.50,-11.00 C2.83,-9.67 1.50,-9.00 0.00,-9.00 Z" fill="#e4927a" transform="translate(147.4 255.7) scale(0.64) rotate(284)"/>
<circle cx="147.4" cy="255.7" r="2.3" fill="#e4927a"/>
<rect x="107.1" y="220.5" width="84.4" height="72.1" fill="none" stroke="#5a5cf2" stroke-width="1.2"/>
<rect x="107.1" y="299.3" width="84.4" height="72.2" fill="#fbe0da"/>
<rect x="107.1" y="299.3" width="84.4" height="72.2" fill="#e4927a" opacity="0.14" filter="url(#spkC)"/>
<path d="M0.00,-9.00 C-1.50,-9.00 -2.83,-9.67 -4.50,-11.00 C-6.17,-12.33 -8.28,-14.75 -10.00,-17.00 C-11.72,-19.25 -13.50,-22.00 -14.80,-24.50 C-16.10,-27.00 -17.17,-29.67 -17.80,-32.00 C-18.43,-34.33 -18.70,-36.42 -18.60,-38.50 C-18.50,-40.58 -18.05,-42.67 -17.20,-44.50 C-16.35,-46.33 -14.78,-48.00 -13.50,-49.50 C-12.22,-51.00 -10.58,-52.50 -9.50,-53.50 C-8.42,-54.50 -7.83,-55.33 -7.00,-55.50 C-6.17,-55.67 -5.33,-55.00 -4.50,-54.50 C-3.67,-54.00 -2.75,-53.12 -2.00,-52.50 C-1.25,-51.88 -0.33,-51.08 0.00,-50.80 C0.33,-51.08 1.25,-51.88 2.00,-52.50 C2.75,-53.12 3.67,-54.00 4.50,-54.50 C5.33,-55.00 6.17,-55.67 7.00,-55.50 C7.83,-55.33 8.42,-54.50 9.50,-53.50 C10.58,-52.50 12.22,-51.00 13.50,-49.50 C14.78,-48.00 16.35,-46.33 17.20,-44.50 C18.05,-42.67 18.50,-40.58 18.60,-38.50 C18.70,-36.42 18.43,-34.33 17.80,-32.00 C17.17,-29.67 16.10,-27.00 14.80,-24.50 C13.50,-22.00 11.72,-19.25 10.00,-17.00 C8.28,-14.75 6.17,-12.33 4.50,-11.00 C2.83,-9.67 1.50,-9.00 0.00,-9.00 Z" fill="#e4927a" opacity="0.3" filter="url(#spkB)" transform="translate(148.8 335.7) scale(0.64) rotate(144)"/>
<path d="M0.00,-9.00 C-1.50,-9.00 -2.83,-9.67 -4.50,-11.00 C-6.17,-12.33 -8.28,-14.75 -10.00,-17.00 C-11.72,-19.25 -13.50,-22.00 -14.80,-24.50 C-16.10,-27.00 -17.17,-29.67 -17.80,-32.00 C-18.43,-34.33 -18.70,-36.42 -18.60,-38.50 C-18.50,-40.58 -18.05,-42.67 -17.20,-44.50 C-16.35,-46.33 -14.78,-48.00 -13.50,-49.50 C-12.22,-51.00 -10.58,-52.50 -9.50,-53.50 C-8.42,-54.50 -7.83,-55.33 -7.00,-55.50 C-6.17,-55.67 -5.33,-55.00 -4.50,-54.50 C-3.67,-54.00 -2.75,-53.12 -2.00,-52.50 C-1.25,-51.88 -0.33,-51.08 0.00,-50.80 C0.33,-51.08 1.25,-51.88 2.00,-52.50 C2.75,-53.12 3.67,-54.00 4.50,-54.50 C5.33,-55.00 6.17,-55.67 7.00,-55.50 C7.83,-55.33 8.42,-54.50 9.50,-53.50 C10.58,-52.50 12.22,-51.00 13.50,-49.50 C14.78,-48.00 16.35,-46.33 17.20,-44.50 C18.05,-42.67 18.50,-40.58 18.60,-38.50 C18.70,-36.42 18.43,-34.33 17.80,-32.00 C17.17,-29.67 16.10,-27.00 14.80,-24.50 C13.50,-22.00 11.72,-19.25 10.00,-17.00 C8.28,-14.75 6.17,-12.33 4.50,-11.00 C2.83,-9.67 1.50,-9.00 0.00,-9.00 Z" fill="#e4927a" opacity="0.3" filter="url(#spkB)" transform="translate(148.8 335.7) scale(0.64) rotate(0)"/>
<path d="M0.00,-9.00 C-1.50,-9.00 -2.83,-9.67 -4.50,-11.00 C-6.17,-12.33 -8.28,-14.75 -10.00,-17.00 C-11.72,-19.25 -13.50,-22.00 -14.80,-24.50 C-16.10,-27.00 -17.17,-29.67 -17.80,-32.00 C-18.43,-34.33 -18.70,-36.42 -18.60,-38.50 C-18.50,-40.58 -18.05,-42.67 -17.20,-44.50 C-16.35,-46.33 -14.78,-48.00 -13.50,-49.50 C-12.22,-51.00 -10.58,-52.50 -9.50,-53.50 C-8.42,-54.50 -7.83,-55.33 -7.00,-55.50 C-6.17,-55.67 -5.33,-55.00 -4.50,-54.50 C-3.67,-54.00 -2.75,-53.12 -2.00,-52.50 C-1.25,-51.88 -0.33,-51.08 0.00,-50.80 C0.33,-51.08 1.25,-51.88 2.00,-52.50 C2.75,-53.12 3.67,-54.00 4.50,-54.50 C5.33,-55.00 6.17,-55.67 7.00,-55.50 C7.83,-55.33 8.42,-54.50 9.50,-53.50 C10.58,-52.50 12.22,-51.00 13.50,-49.50 C14.78,-48.00 16.35,-46.33 17.20,-44.50 C18.05,-42.67 18.50,-40.58 18.60,-38.50 C18.70,-36.42 18.43,-34.33 17.80,-32.00 C17.17,-29.67 16.10,-27.00 14.80,-24.50 C13.50,-22.00 11.72,-19.25 10.00,-17.00 C8.28,-14.75 6.17,-12.33 4.50,-11.00 C2.83,-9.67 1.50,-9.00 0.00,-9.00 Z" fill="#e4927a" opacity="0.16" transform="translate(149.3 337.2) scale(0.64) rotate(288)"/>
<path d="M0.00,-9.00 C-1.50,-9.00 -2.83,-9.67 -4.50,-11.00 C-6.17,-12.33 -8.28,-14.75 -10.00,-17.00 C-11.72,-19.25 -13.50,-22.00 -14.80,-24.50 C-16.10,-27.00 -17.17,-29.67 -17.80,-32.00 C-18.43,-34.33 -18.70,-36.42 -18.60,-38.50 C-18.50,-40.58 -18.05,-42.67 -17.20,-44.50 C-16.35,-46.33 -14.78,-48.00 -13.50,-49.50 C-12.22,-51.00 -10.58,-52.50 -9.50,-53.50 C-8.42,-54.50 -7.83,-55.33 -7.00,-55.50 C-6.17,-55.67 -5.33,-55.00 -4.50,-54.50 C-3.67,-54.00 -2.75,-53.12 -2.00,-52.50 C-1.25,-51.88 -0.33,-51.08 0.00,-50.80 C0.33,-51.08 1.25,-51.88 2.00,-52.50 C2.75,-53.12 3.67,-54.00 4.50,-54.50 C5.33,-55.00 6.17,-55.67 7.00,-55.50 C7.83,-55.33 8.42,-54.50 9.50,-53.50 C10.58,-52.50 12.22,-51.00 13.50,-49.50 C14.78,-48.00 16.35,-46.33 17.20,-44.50 C18.05,-42.67 18.50,-40.58 18.60,-38.50 C18.70,-36.42 18.43,-34.33 17.80,-32.00 C17.17,-29.67 16.10,-27.00 14.80,-24.50 C13.50,-22.00 11.72,-19.25 10.00,-17.00 C8.28,-14.75 6.17,-12.33 4.50,-11.00 C2.83,-9.67 1.50,-9.00 0.00,-9.00 Z" fill="#ea7a62" filter="url(#spkD)" transform="translate(149.3 337.2) scale(0.64) rotate(288)"/>
<circle cx="148.8" cy="335.7" r="1.8" fill="#e4927a" opacity="0.7"/>
<rect x="107.1" y="299.3" width="84.4" height="72.2" fill="none" stroke="#e07272" stroke-width="1.2"/>
<rect x="198.2" y="220.5" width="86.3" height="72.1" fill="#dcf2cc"/>
<rect x="198.2" y="220.5" width="86.3" height="72.1" fill="#66c966" opacity="0.07" filter="url(#spkC)"/>
<path d="M0.00,-9.00 C-1.50,-9.00 -2.83,-9.67 -4.50,-11.00 C-6.17,-12.33 -8.28,-14.75 -10.00,-17.00 C-11.72,-19.25 -13.50,-22.00 -14.80,-24.50 C-16.10,-27.00 -17.17,-29.67 -17.80,-32.00 C-18.43,-34.33 -18.70,-36.42 -18.60,-38.50 C-18.50,-40.58 -18.05,-42.67 -17.20,-44.50 C-16.35,-46.33 -14.78,-48.00 -13.50,-49.50 C-12.22,-51.00 -10.58,-52.50 -9.50,-53.50 C-8.42,-54.50 -7.83,-55.33 -7.00,-55.50 C-6.17,-55.67 -5.33,-55.00 -4.50,-54.50 C-3.67,-54.00 -2.75,-53.12 -2.00,-52.50 C-1.25,-51.88 -0.33,-51.08 0.00,-50.80 C0.33,-51.08 1.25,-51.88 2.00,-52.50 C2.75,-53.12 3.67,-54.00 4.50,-54.50 C5.33,-55.00 6.17,-55.67 7.00,-55.50 C7.83,-55.33 8.42,-54.50 9.50,-53.50 C10.58,-52.50 12.22,-51.00 13.50,-49.50 C14.78,-48.00 16.35,-46.33 17.20,-44.50 C18.05,-42.67 18.50,-40.58 18.60,-38.50 C18.70,-36.42 18.43,-34.33 17.80,-32.00 C17.17,-29.67 16.10,-27.00 14.80,-24.50 C13.50,-22.00 11.72,-19.25 10.00,-17.00 C8.28,-14.75 6.17,-12.33 4.50,-11.00 C2.83,-9.67 1.50,-9.00 0.00,-9.00 Z" fill="#66c966" opacity="0.3" filter="url(#spkB)" transform="translate(238.1 257.7) scale(0.62) rotate(144)"/>
<path d="M0.00,-9.00 C-1.50,-9.00 -2.83,-9.67 -4.50,-11.00 C-6.17,-12.33 -8.28,-14.75 -10.00,-17.00 C-11.72,-19.25 -13.50,-22.00 -14.80,-24.50 C-16.10,-27.00 -17.17,-29.67 -17.80,-32.00 C-18.43,-34.33 -18.70,-36.42 -18.60,-38.50 C-18.50,-40.58 -18.05,-42.67 -17.20,-44.50 C-16.35,-46.33 -14.78,-48.00 -13.50,-49.50 C-12.22,-51.00 -10.58,-52.50 -9.50,-53.50 C-8.42,-54.50 -7.83,-55.33 -7.00,-55.50 C-6.17,-55.67 -5.33,-55.00 -4.50,-54.50 C-3.67,-54.00 -2.75,-53.12 -2.00,-52.50 C-1.25,-51.88 -0.33,-51.08 0.00,-50.80 C0.33,-51.08 1.25,-51.88 2.00,-52.50 C2.75,-53.12 3.67,-54.00 4.50,-54.50 C5.33,-55.00 6.17,-55.67 7.00,-55.50 C7.83,-55.33 8.42,-54.50 9.50,-53.50 C10.58,-52.50 12.22,-51.00 13.50,-49.50 C14.78,-48.00 16.35,-46.33 17.20,-44.50 C18.05,-42.67 18.50,-40.58 18.60,-38.50 C18.70,-36.42 18.43,-34.33 17.80,-32.00 C17.17,-29.67 16.10,-27.00 14.80,-24.50 C13.50,-22.00 11.72,-19.25 10.00,-17.00 C8.28,-14.75 6.17,-12.33 4.50,-11.00 C2.83,-9.67 1.50,-9.00 0.00,-9.00 Z" fill="#66c966" transform="translate(238.1 257.7) scale(0.64) rotate(216)"/>
<circle cx="238.1" cy="257.7" r="2.3" fill="#66c966"/>
<rect x="198.2" y="220.5" width="86.3" height="72.1" fill="none" stroke="#5a5cf2" stroke-width="1.2"/>
<rect x="198.2" y="299.3" width="86.3" height="72.2" fill="#daf2cf"/>
<rect x="198.2" y="299.3" width="86.3" height="72.2" fill="#66c966" opacity="0.14" filter="url(#spkC)"/>
<path d="M0.00,-9.00 C-1.50,-9.00 -2.83,-9.67 -4.50,-11.00 C-6.17,-12.33 -8.28,-14.75 -10.00,-17.00 C-11.72,-19.25 -13.50,-22.00 -14.80,-24.50 C-16.10,-27.00 -17.17,-29.67 -17.80,-32.00 C-18.43,-34.33 -18.70,-36.42 -18.60,-38.50 C-18.50,-40.58 -18.05,-42.67 -17.20,-44.50 C-16.35,-46.33 -14.78,-48.00 -13.50,-49.50 C-12.22,-51.00 -10.58,-52.50 -9.50,-53.50 C-8.42,-54.50 -7.83,-55.33 -7.00,-55.50 C-6.17,-55.67 -5.33,-55.00 -4.50,-54.50 C-3.67,-54.00 -2.75,-53.12 -2.00,-52.50 C-1.25,-51.88 -0.33,-51.08 0.00,-50.80 C0.33,-51.08 1.25,-51.88 2.00,-52.50 C2.75,-53.12 3.67,-54.00 4.50,-54.50 C5.33,-55.00 6.17,-55.67 7.00,-55.50 C7.83,-55.33 8.42,-54.50 9.50,-53.50 C10.58,-52.50 12.22,-51.00 13.50,-49.50 C14.78,-48.00 16.35,-46.33 17.20,-44.50 C18.05,-42.67 18.50,-40.58 18.60,-38.50 C18.70,-36.42 18.43,-34.33 17.80,-32.00 C17.17,-29.67 16.10,-27.00 14.80,-24.50 C13.50,-22.00 11.72,-19.25 10.00,-17.00 C8.28,-14.75 6.17,-12.33 4.50,-11.00 C2.83,-9.67 1.50,-9.00 0.00,-9.00 Z" fill="#66c966" opacity="0.3" filter="url(#spkB)" transform="translate(241.4 334.7) scale(0.64) rotate(0)"/>
<path d="M0.00,-9.00 C-1.50,-9.00 -2.83,-9.67 -4.50,-11.00 C-6.17,-12.33 -8.28,-14.75 -10.00,-17.00 C-11.72,-19.25 -13.50,-22.00 -14.80,-24.50 C-16.10,-27.00 -17.17,-29.67 -17.80,-32.00 C-18.43,-34.33 -18.70,-36.42 -18.60,-38.50 C-18.50,-40.58 -18.05,-42.67 -17.20,-44.50 C-16.35,-46.33 -14.78,-48.00 -13.50,-49.50 C-12.22,-51.00 -10.58,-52.50 -9.50,-53.50 C-8.42,-54.50 -7.83,-55.33 -7.00,-55.50 C-6.17,-55.67 -5.33,-55.00 -4.50,-54.50 C-3.67,-54.00 -2.75,-53.12 -2.00,-52.50 C-1.25,-51.88 -0.33,-51.08 0.00,-50.80 C0.33,-51.08 1.25,-51.88 2.00,-52.50 C2.75,-53.12 3.67,-54.00 4.50,-54.50 C5.33,-55.00 6.17,-55.67 7.00,-55.50 C7.83,-55.33 8.42,-54.50 9.50,-53.50 C10.58,-52.50 12.22,-51.00 13.50,-49.50 C14.78,-48.00 16.35,-46.33 17.20,-44.50 C18.05,-42.67 18.50,-40.58 18.60,-38.50 C18.70,-36.42 18.43,-34.33 17.80,-32.00 C17.17,-29.67 16.10,-27.00 14.80,-24.50 C13.50,-22.00 11.72,-19.25 10.00,-17.00 C8.28,-14.75 6.17,-12.33 4.50,-11.00 C2.83,-9.67 1.50,-9.00 0.00,-9.00 Z" fill="#66c966" opacity="0.3" filter="url(#spkB)" transform="translate(241.4 334.7) scale(0.64) rotate(144)"/>
<path d="M0.00,-9.00 C-1.50,-9.00 -2.83,-9.67 -4.50,-11.00 C-6.17,-12.33 -8.28,-14.75 -10.00,-17.00 C-11.72,-19.25 -13.50,-22.00 -14.80,-24.50 C-16.10,-27.00 -17.17,-29.67 -17.80,-32.00 C-18.43,-34.33 -18.70,-36.42 -18.60,-38.50 C-18.50,-40.58 -18.05,-42.67 -17.20,-44.50 C-16.35,-46.33 -14.78,-48.00 -13.50,-49.50 C-12.22,-51.00 -10.58,-52.50 -9.50,-53.50 C-8.42,-54.50 -7.83,-55.33 -7.00,-55.50 C-6.17,-55.67 -5.33,-55.00 -4.50,-54.50 C-3.67,-54.00 -2.75,-53.12 -2.00,-52.50 C-1.25,-51.88 -0.33,-51.08 0.00,-50.80 C0.33,-51.08 1.25,-51.88 2.00,-52.50 C2.75,-53.12 3.67,-54.00 4.50,-54.50 C5.33,-55.00 6.17,-55.67 7.00,-55.50 C7.83,-55.33 8.42,-54.50 9.50,-53.50 C10.58,-52.50 12.22,-51.00 13.50,-49.50 C14.78,-48.00 16.35,-46.33 17.20,-44.50 C18.05,-42.67 18.50,-40.58 18.60,-38.50 C18.70,-36.42 18.43,-34.33 17.80,-32.00 C17.17,-29.67 16.10,-27.00 14.80,-24.50 C13.50,-22.00 11.72,-19.25 10.00,-17.00 C8.28,-14.75 6.17,-12.33 4.50,-11.00 C2.83,-9.67 1.50,-9.00 0.00,-9.00 Z" fill="#66c966" opacity="0.3" filter="url(#spkB)" transform="translate(241.4 334.7) scale(0.64) rotate(72)"/>
<path d="M0.00,-9.00 C-1.50,-9.00 -2.83,-9.67 -4.50,-11.00 C-6.17,-12.33 -8.28,-14.75 -10.00,-17.00 C-11.72,-19.25 -13.50,-22.00 -14.80,-24.50 C-16.10,-27.00 -17.17,-29.67 -17.80,-32.00 C-18.43,-34.33 -18.70,-36.42 -18.60,-38.50 C-18.50,-40.58 -18.05,-42.67 -17.20,-44.50 C-16.35,-46.33 -14.78,-48.00 -13.50,-49.50 C-12.22,-51.00 -10.58,-52.50 -9.50,-53.50 C-8.42,-54.50 -7.83,-55.33 -7.00,-55.50 C-6.17,-55.67 -5.33,-55.00 -4.50,-54.50 C-3.67,-54.00 -2.75,-53.12 -2.00,-52.50 C-1.25,-51.88 -0.33,-51.08 0.00,-50.80 C0.33,-51.08 1.25,-51.88 2.00,-52.50 C2.75,-53.12 3.67,-54.00 4.50,-54.50 C5.33,-55.00 6.17,-55.67 7.00,-55.50 C7.83,-55.33 8.42,-54.50 9.50,-53.50 C10.58,-52.50 12.22,-51.00 13.50,-49.50 C14.78,-48.00 16.35,-46.33 17.20,-44.50 C18.05,-42.67 18.50,-40.58 18.60,-38.50 C18.70,-36.42 18.43,-34.33 17.80,-32.00 C17.17,-29.67 16.10,-27.00 14.80,-24.50 C13.50,-22.00 11.72,-19.25 10.00,-17.00 C8.28,-14.75 6.17,-12.33 4.50,-11.00 C2.83,-9.67 1.50,-9.00 0.00,-9.00 Z" fill="#66c966" opacity="0.1" transform="translate(242.9 336.7) scale(0.64) rotate(216)"/>
<path d="M0.00,-9.00 C-1.50,-9.00 -2.83,-9.67 -4.50,-11.00 C-6.17,-12.33 -8.28,-14.75 -10.00,-17.00 C-11.72,-19.25 -13.50,-22.00 -14.80,-24.50 C-16.10,-27.00 -17.17,-29.67 -17.80,-32.00 C-18.43,-34.33 -18.70,-36.42 -18.60,-38.50 C-18.50,-40.58 -18.05,-42.67 -17.20,-44.50 C-16.35,-46.33 -14.78,-48.00 -13.50,-49.50 C-12.22,-51.00 -10.58,-52.50 -9.50,-53.50 C-8.42,-54.50 -7.83,-55.33 -7.00,-55.50 C-6.17,-55.67 -5.33,-55.00 -4.50,-54.50 C-3.67,-54.00 -2.75,-53.12 -2.00,-52.50 C-1.25,-51.88 -0.33,-51.08 0.00,-50.80 C0.33,-51.08 1.25,-51.88 2.00,-52.50 C2.75,-53.12 3.67,-54.00 4.50,-54.50 C5.33,-55.00 6.17,-55.67 7.00,-55.50 C7.83,-55.33 8.42,-54.50 9.50,-53.50 C10.58,-52.50 12.22,-51.00 13.50,-49.50 C14.78,-48.00 16.35,-46.33 17.20,-44.50 C18.05,-42.67 18.50,-40.58 18.60,-38.50 C18.70,-36.42 18.43,-34.33 17.80,-32.00 C17.17,-29.67 16.10,-27.00 14.80,-24.50 C13.50,-22.00 11.72,-19.25 10.00,-17.00 C8.28,-14.75 6.17,-12.33 4.50,-11.00 C2.83,-9.67 1.50,-9.00 0.00,-9.00 Z" fill="#5cb050" filter="url(#spkE)" transform="translate(242.9 336.7) scale(0.64) rotate(216)"/>
<circle cx="241.4" cy="334.7" r="1.8" fill="#66c966" opacity="0.7"/>
<rect x="198.2" y="299.3" width="86.3" height="72.2" fill="none" stroke="#e07272" stroke-width="1.2"/>
<rect x="290.6" y="220.5" width="84.9" height="72.1" fill="#cce5f4"/>
<rect x="290.6" y="220.5" width="84.9" height="72.1" fill="#669de2" opacity="0.07" filter="url(#spkC)"/>
<path d="M0.00,-9.00 C-1.50,-9.00 -2.83,-9.67 -4.50,-11.00 C-6.17,-12.33 -8.28,-14.75 -10.00,-17.00 C-11.72,-19.25 -13.50,-22.00 -14.80,-24.50 C-16.10,-27.00 -17.17,-29.67 -17.80,-32.00 C-18.43,-34.33 -18.70,-36.42 -18.60,-38.50 C-18.50,-40.58 -18.05,-42.67 -17.20,-44.50 C-16.35,-46.33 -14.78,-48.00 -13.50,-49.50 C-12.22,-51.00 -10.58,-52.50 -9.50,-53.50 C-8.42,-54.50 -7.83,-55.33 -7.00,-55.50 C-6.17,-55.67 -5.33,-55.00 -4.50,-54.50 C-3.67,-54.00 -2.75,-53.12 -2.00,-52.50 C-1.25,-51.88 -0.33,-51.08 0.00,-50.80 C0.33,-51.08 1.25,-51.88 2.00,-52.50 C2.75,-53.12 3.67,-54.00 4.50,-54.50 C5.33,-55.00 6.17,-55.67 7.00,-55.50 C7.83,-55.33 8.42,-54.50 9.50,-53.50 C10.58,-52.50 12.22,-51.00 13.50,-49.50 C14.78,-48.00 16.35,-46.33 17.20,-44.50 C18.05,-42.67 18.50,-40.58 18.60,-38.50 C18.70,-36.42 18.43,-34.33 17.80,-32.00 C17.17,-29.67 16.10,-27.00 14.80,-24.50 C13.50,-22.00 11.72,-19.25 10.00,-17.00 C8.28,-14.75 6.17,-12.33 4.50,-11.00 C2.83,-9.67 1.50,-9.00 0.00,-9.00 Z" fill="#669de2" opacity="0.3" filter="url(#spkB)" transform="translate(330.3 257.4) scale(0.62) rotate(216)"/>
<path d="M0.00,-9.00 C-1.50,-9.00 -2.83,-9.67 -4.50,-11.00 C-6.17,-12.33 -8.28,-14.75 -10.00,-17.00 C-11.72,-19.25 -13.50,-22.00 -14.80,-24.50 C-16.10,-27.00 -17.17,-29.67 -17.80,-32.00 C-18.43,-34.33 -18.70,-36.42 -18.60,-38.50 C-18.50,-40.58 -18.05,-42.67 -17.20,-44.50 C-16.35,-46.33 -14.78,-48.00 -13.50,-49.50 C-12.22,-51.00 -10.58,-52.50 -9.50,-53.50 C-8.42,-54.50 -7.83,-55.33 -7.00,-55.50 C-6.17,-55.67 -5.33,-55.00 -4.50,-54.50 C-3.67,-54.00 -2.75,-53.12 -2.00,-52.50 C-1.25,-51.88 -0.33,-51.08 0.00,-50.80 C0.33,-51.08 1.25,-51.88 2.00,-52.50 C2.75,-53.12 3.67,-54.00 4.50,-54.50 C5.33,-55.00 6.17,-55.67 7.00,-55.50 C7.83,-55.33 8.42,-54.50 9.50,-53.50 C10.58,-52.50 12.22,-51.00 13.50,-49.50 C14.78,-48.00 16.35,-46.33 17.20,-44.50 C18.05,-42.67 18.50,-40.58 18.60,-38.50 C18.70,-36.42 18.43,-34.33 17.80,-32.00 C17.17,-29.67 16.10,-27.00 14.80,-24.50 C13.50,-22.00 11.72,-19.25 10.00,-17.00 C8.28,-14.75 6.17,-12.33 4.50,-11.00 C2.83,-9.67 1.50,-9.00 0.00,-9.00 Z" fill="#669de2" transform="translate(330.3 257.4) scale(0.64) rotate(141)"/>
<circle cx="330.3" cy="257.4" r="2.3" fill="#669de2"/>
<rect x="290.6" y="220.5" width="84.9" height="72.1" fill="none" stroke="#5a5cf2" stroke-width="1.2"/>
<rect x="290.6" y="299.3" width="84.9" height="72.2" fill="#e6eefb"/>
<rect x="290.6" y="299.3" width="84.9" height="72.2" fill="#669de2" opacity="0.14" filter="url(#spkC)"/>
<path d="M0.00,-9.00 C-1.50,-9.00 -2.83,-9.67 -4.50,-11.00 C-6.17,-12.33 -8.28,-14.75 -10.00,-17.00 C-11.72,-19.25 -13.50,-22.00 -14.80,-24.50 C-16.10,-27.00 -17.17,-29.67 -17.80,-32.00 C-18.43,-34.33 -18.70,-36.42 -18.60,-38.50 C-18.50,-40.58 -18.05,-42.67 -17.20,-44.50 C-16.35,-46.33 -14.78,-48.00 -13.50,-49.50 C-12.22,-51.00 -10.58,-52.50 -9.50,-53.50 C-8.42,-54.50 -7.83,-55.33 -7.00,-55.50 C-6.17,-55.67 -5.33,-55.00 -4.50,-54.50 C-3.67,-54.00 -2.75,-53.12 -2.00,-52.50 C-1.25,-51.88 -0.33,-51.08 0.00,-50.80 C0.33,-51.08 1.25,-51.88 2.00,-52.50 C2.75,-53.12 3.67,-54.00 4.50,-54.50 C5.33,-55.00 6.17,-55.67 7.00,-55.50 C7.83,-55.33 8.42,-54.50 9.50,-53.50 C10.58,-52.50 12.22,-51.00 13.50,-49.50 C14.78,-48.00 16.35,-46.33 17.20,-44.50 C18.05,-42.67 18.50,-40.58 18.60,-38.50 C18.70,-36.42 18.43,-34.33 17.80,-32.00 C17.17,-29.67 16.10,-27.00 14.80,-24.50 C13.50,-22.00 11.72,-19.25 10.00,-17.00 C8.28,-14.75 6.17,-12.33 4.50,-11.00 C2.83,-9.67 1.50,-9.00 0.00,-9.00 Z" fill="#669de2" opacity="0.3" filter="url(#spkB)" transform="translate(331.8 334.7) scale(0.64) rotate(288)"/>
<path d="M0.00,-9.00 C-1.50,-9.00 -2.83,-9.67 -4.50,-11.00 C-6.17,-12.33 -8.28,-14.75 -10.00,-17.00 C-11.72,-19.25 -13.50,-22.00 -14.80,-24.50 C-16.10,-27.00 -17.17,-29.67 -17.80,-32.00 C-18.43,-34.33 -18.70,-36.42 -18.60,-38.50 C-18.50,-40.58 -18.05,-42.67 -17.20,-44.50 C-16.35,-46.33 -14.78,-48.00 -13.50,-49.50 C-12.22,-51.00 -10.58,-52.50 -9.50,-53.50 C-8.42,-54.50 -7.83,-55.33 -7.00,-55.50 C-6.17,-55.67 -5.33,-55.00 -4.50,-54.50 C-3.67,-54.00 -2.75,-53.12 -2.00,-52.50 C-1.25,-51.88 -0.33,-51.08 0.00,-50.80 C0.33,-51.08 1.25,-51.88 2.00,-52.50 C2.75,-53.12 3.67,-54.00 4.50,-54.50 C5.33,-55.00 6.17,-55.67 7.00,-55.50 C7.83,-55.33 8.42,-54.50 9.50,-53.50 C10.58,-52.50 12.22,-51.00 13.50,-49.50 C14.78,-48.00 16.35,-46.33 17.20,-44.50 C18.05,-42.67 18.50,-40.58 18.60,-38.50 C18.70,-36.42 18.43,-34.33 17.80,-32.00 C17.17,-29.67 16.10,-27.00 14.80,-24.50 C13.50,-22.00 11.72,-19.25 10.00,-17.00 C8.28,-14.75 6.17,-12.33 4.50,-11.00 C2.83,-9.67 1.50,-9.00 0.00,-9.00 Z" fill="#669de2" opacity="0.12" transform="translate(332.3 335.2) scale(0.64) rotate(144)"/>
<path d="M0.00,-9.00 C-1.50,-9.00 -2.83,-9.67 -4.50,-11.00 C-6.17,-12.33 -8.28,-14.75 -10.00,-17.00 C-11.72,-19.25 -13.50,-22.00 -14.80,-24.50 C-16.10,-27.00 -17.17,-29.67 -17.80,-32.00 C-18.43,-34.33 -18.70,-36.42 -18.60,-38.50 C-18.50,-40.58 -18.05,-42.67 -17.20,-44.50 C-16.35,-46.33 -14.78,-48.00 -13.50,-49.50 C-12.22,-51.00 -10.58,-52.50 -9.50,-53.50 C-8.42,-54.50 -7.83,-55.33 -7.00,-55.50 C-6.17,-55.67 -5.33,-55.00 -4.50,-54.50 C-3.67,-54.00 -2.75,-53.12 -2.00,-52.50 C-1.25,-51.88 -0.33,-51.08 0.00,-50.80 C0.33,-51.08 1.25,-51.88 2.00,-52.50 C2.75,-53.12 3.67,-54.00 4.50,-54.50 C5.33,-55.00 6.17,-55.67 7.00,-55.50 C7.83,-55.33 8.42,-54.50 9.50,-53.50 C10.58,-52.50 12.22,-51.00 13.50,-49.50 C14.78,-48.00 16.35,-46.33 17.20,-44.50 C18.05,-42.67 18.50,-40.58 18.60,-38.50 C18.70,-36.42 18.43,-34.33 17.80,-32.00 C17.17,-29.67 16.10,-27.00 14.80,-24.50 C13.50,-22.00 11.72,-19.25 10.00,-17.00 C8.28,-14.75 6.17,-12.33 4.50,-11.00 C2.83,-9.67 1.50,-9.00 0.00,-9.00 Z" fill="#5a88dd" filter="url(#spkE)" transform="translate(332.3 335.2) scale(0.64) rotate(144)"/>
<circle cx="331.8" cy="334.7" r="1.8" fill="#669de2" opacity="0.7"/>
<rect x="290.6" y="299.3" width="84.9" height="72.2" fill="none" stroke="#e07272" stroke-width="1.2"/>
<rect x="381.1" y="220.5" width="84.5" height="72.1" fill="#eed4f8"/>
<rect x="381.1" y="220.5" width="84.5" height="72.1" fill="#ba5ecb" opacity="0.07" filter="url(#spkC)"/>
<path d="M0.00,-9.00 C-1.50,-9.00 -2.83,-9.67 -4.50,-11.00 C-6.17,-12.33 -8.28,-14.75 -10.00,-17.00 C-11.72,-19.25 -13.50,-22.00 -14.80,-24.50 C-16.10,-27.00 -17.17,-29.67 -17.80,-32.00 C-18.43,-34.33 -18.70,-36.42 -18.60,-38.50 C-18.50,-40.58 -18.05,-42.67 -17.20,-44.50 C-16.35,-46.33 -14.78,-48.00 -13.50,-49.50 C-12.22,-51.00 -10.58,-52.50 -9.50,-53.50 C-8.42,-54.50 -7.83,-55.33 -7.00,-55.50 C-6.17,-55.67 -5.33,-55.00 -4.50,-54.50 C-3.67,-54.00 -2.75,-53.12 -2.00,-52.50 C-1.25,-51.88 -0.33,-51.08 0.00,-50.80 C0.33,-51.08 1.25,-51.88 2.00,-52.50 C2.75,-53.12 3.67,-54.00 4.50,-54.50 C5.33,-55.00 6.17,-55.67 7.00,-55.50 C7.83,-55.33 8.42,-54.50 9.50,-53.50 C10.58,-52.50 12.22,-51.00 13.50,-49.50 C14.78,-48.00 16.35,-46.33 17.20,-44.50 C18.05,-42.67 18.50,-40.58 18.60,-38.50 C18.70,-36.42 18.43,-34.33 17.80,-32.00 C17.17,-29.67 16.10,-27.00 14.80,-24.50 C13.50,-22.00 11.72,-19.25 10.00,-17.00 C8.28,-14.75 6.17,-12.33 4.50,-11.00 C2.83,-9.67 1.50,-9.00 0.00,-9.00 Z" fill="#ba5ecb" opacity="0.3" filter="url(#spkB)" transform="translate(420.4 254.7) scale(0.62) rotate(144)"/>
<path d="M0.00,-9.00 C-1.50,-9.00 -2.83,-9.67 -4.50,-11.00 C-6.17,-12.33 -8.28,-14.75 -10.00,-17.00 C-11.72,-19.25 -13.50,-22.00 -14.80,-24.50 C-16.10,-27.00 -17.17,-29.67 -17.80,-32.00 C-18.43,-34.33 -18.70,-36.42 -18.60,-38.50 C-18.50,-40.58 -18.05,-42.67 -17.20,-44.50 C-16.35,-46.33 -14.78,-48.00 -13.50,-49.50 C-12.22,-51.00 -10.58,-52.50 -9.50,-53.50 C-8.42,-54.50 -7.83,-55.33 -7.00,-55.50 C-6.17,-55.67 -5.33,-55.00 -4.50,-54.50 C-3.67,-54.00 -2.75,-53.12 -2.00,-52.50 C-1.25,-51.88 -0.33,-51.08 0.00,-50.80 C0.33,-51.08 1.25,-51.88 2.00,-52.50 C2.75,-53.12 3.67,-54.00 4.50,-54.50 C5.33,-55.00 6.17,-55.67 7.00,-55.50 C7.83,-55.33 8.42,-54.50 9.50,-53.50 C10.58,-52.50 12.22,-51.00 13.50,-49.50 C14.78,-48.00 16.35,-46.33 17.20,-44.50 C18.05,-42.67 18.50,-40.58 18.60,-38.50 C18.70,-36.42 18.43,-34.33 17.80,-32.00 C17.17,-29.67 16.10,-27.00 14.80,-24.50 C13.50,-22.00 11.72,-19.25 10.00,-17.00 C8.28,-14.75 6.17,-12.33 4.50,-11.00 C2.83,-9.67 1.50,-9.00 0.00,-9.00 Z" fill="#ba5ecb" opacity="0.3" filter="url(#spkB)" transform="translate(420.4 254.7) scale(0.62) rotate(216)"/>
<path d="M0.00,-9.00 C-1.50,-9.00 -2.83,-9.67 -4.50,-11.00 C-6.17,-12.33 -8.28,-14.75 -10.00,-17.00 C-11.72,-19.25 -13.50,-22.00 -14.80,-24.50 C-16.10,-27.00 -17.17,-29.67 -17.80,-32.00 C-18.43,-34.33 -18.70,-36.42 -18.60,-38.50 C-18.50,-40.58 -18.05,-42.67 -17.20,-44.50 C-16.35,-46.33 -14.78,-48.00 -13.50,-49.50 C-12.22,-51.00 -10.58,-52.50 -9.50,-53.50 C-8.42,-54.50 -7.83,-55.33 -7.00,-55.50 C-6.17,-55.67 -5.33,-55.00 -4.50,-54.50 C-3.67,-54.00 -2.75,-53.12 -2.00,-52.50 C-1.25,-51.88 -0.33,-51.08 0.00,-50.80 C0.33,-51.08 1.25,-51.88 2.00,-52.50 C2.75,-53.12 3.67,-54.00 4.50,-54.50 C5.33,-55.00 6.17,-55.67 7.00,-55.50 C7.83,-55.33 8.42,-54.50 9.50,-53.50 C10.58,-52.50 12.22,-51.00 13.50,-49.50 C14.78,-48.00 16.35,-46.33 17.20,-44.50 C18.05,-42.67 18.50,-40.58 18.60,-38.50 C18.70,-36.42 18.43,-34.33 17.80,-32.00 C17.17,-29.67 16.10,-27.00 14.80,-24.50 C13.50,-22.00 11.72,-19.25 10.00,-17.00 C8.28,-14.75 6.17,-12.33 4.50,-11.00 C2.83,-9.67 1.50,-9.00 0.00,-9.00 Z" fill="#ba5ecb" transform="translate(420.4 255.29999999999998) scale(0.66) rotate(72)"/>
<circle cx="420.4" cy="254.7" r="2.3" fill="#ba5ecb"/>
<rect x="381.1" y="220.5" width="84.5" height="72.1" fill="none" stroke="#5a5cf2" stroke-width="1.2"/>
<rect x="381.1" y="299.3" width="84.5" height="72.2" fill="#f6e6fb"/>
<rect x="381.1" y="299.3" width="84.5" height="72.2" fill="#ba5ecb" opacity="0.14" filter="url(#spkC)"/>
<path d="M0.00,-9.00 C-1.50,-9.00 -2.83,-9.67 -4.50,-11.00 C-6.17,-12.33 -8.28,-14.75 -10.00,-17.00 C-11.72,-19.25 -13.50,-22.00 -14.80,-24.50 C-16.10,-27.00 -17.17,-29.67 -17.80,-32.00 C-18.43,-34.33 -18.70,-36.42 -18.60,-38.50 C-18.50,-40.58 -18.05,-42.67 -17.20,-44.50 C-16.35,-46.33 -14.78,-48.00 -13.50,-49.50 C-12.22,-51.00 -10.58,-52.50 -9.50,-53.50 C-8.42,-54.50 -7.83,-55.33 -7.00,-55.50 C-6.17,-55.67 -5.33,-55.00 -4.50,-54.50 C-3.67,-54.00 -2.75,-53.12 -2.00,-52.50 C-1.25,-51.88 -0.33,-51.08 0.00,-50.80 C0.33,-51.08 1.25,-51.88 2.00,-52.50 C2.75,-53.12 3.67,-54.00 4.50,-54.50 C5.33,-55.00 6.17,-55.67 7.00,-55.50 C7.83,-55.33 8.42,-54.50 9.50,-53.50 C10.58,-52.50 12.22,-51.00 13.50,-49.50 C14.78,-48.00 16.35,-46.33 17.20,-44.50 C18.05,-42.67 18.50,-40.58 18.60,-38.50 C18.70,-36.42 18.43,-34.33 17.80,-32.00 C17.17,-29.67 16.10,-27.00 14.80,-24.50 C13.50,-22.00 11.72,-19.25 10.00,-17.00 C8.28,-14.75 6.17,-12.33 4.50,-11.00 C2.83,-9.67 1.50,-9.00 0.00,-9.00 Z" fill="#ba5ecb" opacity="0.3" filter="url(#spkB)" transform="translate(423.2 335.7) scale(0.64) rotate(144)"/>
<path d="M0.00,-9.00 C-1.50,-9.00 -2.83,-9.67 -4.50,-11.00 C-6.17,-12.33 -8.28,-14.75 -10.00,-17.00 C-11.72,-19.25 -13.50,-22.00 -14.80,-24.50 C-16.10,-27.00 -17.17,-29.67 -17.80,-32.00 C-18.43,-34.33 -18.70,-36.42 -18.60,-38.50 C-18.50,-40.58 -18.05,-42.67 -17.20,-44.50 C-16.35,-46.33 -14.78,-48.00 -13.50,-49.50 C-12.22,-51.00 -10.58,-52.50 -9.50,-53.50 C-8.42,-54.50 -7.83,-55.33 -7.00,-55.50 C-6.17,-55.67 -5.33,-55.00 -4.50,-54.50 C-3.67,-54.00 -2.75,-53.12 -2.00,-52.50 C-1.25,-51.88 -0.33,-51.08 0.00,-50.80 C0.33,-51.08 1.25,-51.88 2.00,-52.50 C2.75,-53.12 3.67,-54.00 4.50,-54.50 C5.33,-55.00 6.17,-55.67 7.00,-55.50 C7.83,-55.33 8.42,-54.50 9.50,-53.50 C10.58,-52.50 12.22,-51.00 13.50,-49.50 C14.78,-48.00 16.35,-46.33 17.20,-44.50 C18.05,-42.67 18.50,-40.58 18.60,-38.50 C18.70,-36.42 18.43,-34.33 17.80,-32.00 C17.17,-29.67 16.10,-27.00 14.80,-24.50 C13.50,-22.00 11.72,-19.25 10.00,-17.00 C8.28,-14.75 6.17,-12.33 4.50,-11.00 C2.83,-9.67 1.50,-9.00 0.00,-9.00 Z" fill="#ba5ecb" opacity="0.3" filter="url(#spkB)" transform="translate(423.2 335.7) scale(0.64) rotate(216)"/>
<path d="M0.00,-9.00 C-1.50,-9.00 -2.83,-9.67 -4.50,-11.00 C-6.17,-12.33 -8.28,-14.75 -10.00,-17.00 C-11.72,-19.25 -13.50,-22.00 -14.80,-24.50 C-16.10,-27.00 -17.17,-29.67 -17.80,-32.00 C-18.43,-34.33 -18.70,-36.42 -18.60,-38.50 C-18.50,-40.58 -18.05,-42.67 -17.20,-44.50 C-16.35,-46.33 -14.78,-48.00 -13.50,-49.50 C-12.22,-51.00 -10.58,-52.50 -9.50,-53.50 C-8.42,-54.50 -7.83,-55.33 -7.00,-55.50 C-6.17,-55.67 -5.33,-55.00 -4.50,-54.50 C-3.67,-54.00 -2.75,-53.12 -2.00,-52.50 C-1.25,-51.88 -0.33,-51.08 0.00,-50.80 C0.33,-51.08 1.25,-51.88 2.00,-52.50 C2.75,-53.12 3.67,-54.00 4.50,-54.50 C5.33,-55.00 6.17,-55.67 7.00,-55.50 C7.83,-55.33 8.42,-54.50 9.50,-53.50 C10.58,-52.50 12.22,-51.00 13.50,-49.50 C14.78,-48.00 16.35,-46.33 17.20,-44.50 C18.05,-42.67 18.50,-40.58 18.60,-38.50 C18.70,-36.42 18.43,-34.33 17.80,-32.00 C17.17,-29.67 16.10,-27.00 14.80,-24.50 C13.50,-22.00 11.72,-19.25 10.00,-17.00 C8.28,-14.75 6.17,-12.33 4.50,-11.00 C2.83,-9.67 1.50,-9.00 0.00,-9.00 Z" fill="#ba5ecb" opacity="0.13" transform="translate(423.7 335.7) scale(0.66) rotate(72)"/>
<path d="M0.00,-9.00 C-1.50,-9.00 -2.83,-9.67 -4.50,-11.00 C-6.17,-12.33 -8.28,-14.75 -10.00,-17.00 C-11.72,-19.25 -13.50,-22.00 -14.80,-24.50 C-16.10,-27.00 -17.17,-29.67 -17.80,-32.00 C-18.43,-34.33 -18.70,-36.42 -18.60,-38.50 C-18.50,-40.58 -18.05,-42.67 -17.20,-44.50 C-16.35,-46.33 -14.78,-48.00 -13.50,-49.50 C-12.22,-51.00 -10.58,-52.50 -9.50,-53.50 C-8.42,-54.50 -7.83,-55.33 -7.00,-55.50 C-6.17,-55.67 -5.33,-55.00 -4.50,-54.50 C-3.67,-54.00 -2.75,-53.12 -2.00,-52.50 C-1.25,-51.88 -0.33,-51.08 0.00,-50.80 C0.33,-51.08 1.25,-51.88 2.00,-52.50 C2.75,-53.12 3.67,-54.00 4.50,-54.50 C5.33,-55.00 6.17,-55.67 7.00,-55.50 C7.83,-55.33 8.42,-54.50 9.50,-53.50 C10.58,-52.50 12.22,-51.00 13.50,-49.50 C14.78,-48.00 16.35,-46.33 17.20,-44.50 C18.05,-42.67 18.50,-40.58 18.60,-38.50 C18.70,-36.42 18.43,-34.33 17.80,-32.00 C17.17,-29.67 16.10,-27.00 14.80,-24.50 C13.50,-22.00 11.72,-19.25 10.00,-17.00 C8.28,-14.75 6.17,-12.33 4.50,-11.00 C2.83,-9.67 1.50,-9.00 0.00,-9.00 Z" fill="#a452c4" filter="url(#spkE)" transform="translate(423.7 335.7) scale(0.66) rotate(72)"/>
<circle cx="423.2" cy="335.7" r="1.8" fill="#ba5ecb" opacity="0.7"/>
<rect x="381.1" y="299.3" width="84.5" height="72.2" fill="none" stroke="#e07272" stroke-width="1.2"/>
<line x1="23.58" y1="228.86" x2="34.82" y2="230.14" stroke="#0a14f5" stroke-width="1.9"/><polygon points="38.00,230.50 33.72,232.73 34.33,227.37" fill="#0a14f5"/><polygon points="20.40,228.50 24.07,231.63 24.68,226.27" fill="#0a14f5"/>
<line x1="79.68" y1="230.13" x2="90.62" y2="231.27" stroke="#f01010" stroke-width="1.9"/><polygon points="93.80,231.60 89.54,233.87 90.10,228.50" fill="#f01010"/><polygon points="76.50,229.80 80.20,232.90 80.76,227.53" fill="#f01010"/>
<ellipse cx="123.1" cy="231.4" rx="9.1" ry="3.6" transform="rotate(-12 123.1 231.4)" fill="none" stroke="#0a14f5" stroke-width="1.8"/><polygon points="120.32,228.32 117.80,231.64 116.19,227.75" fill="#0a14f5"/>
<ellipse cx="178.3" cy="230.9" rx="9.1" ry="3.6" transform="rotate(-12 178.3 230.9)" fill="none" stroke="#f01010" stroke-width="1.8"/><polygon points="182.44,226.82 178.98,229.16 178.71,224.97" fill="#f01010"/>
<ellipse cx="212.8" cy="232.9" rx="7.0" ry="7.0" transform="rotate(0 212.8 232.9)" fill="none" stroke="#0a14f5" stroke-width="1.8"/><polygon points="211.47,225.80 209.10,229.22 207.32,225.41" fill="#0a14f5"/>
<ellipse cx="271.4" cy="232.3" rx="7.0" ry="7.0" transform="rotate(0 271.4 232.3)" fill="none" stroke="#f01010" stroke-width="1.8"/><polygon points="275.49,226.34 271.38,227.08 272.82,223.13" fill="#f01010"/>
<ellipse cx="305" cy="232.2" rx="3.2" ry="7.9" transform="rotate(-4 305 232.2)" fill="none" stroke="#0a14f5" stroke-width="1.8"/><polygon points="308.26,231.72 305.56,228.54 309.69,227.80" fill="#0a14f5"/>
<ellipse cx="362.9" cy="231" rx="3.2" ry="7.7" transform="rotate(-4 362.9 231)" fill="none" stroke="#f01010" stroke-width="1.8"/><polygon points="365.64,236.42 364.16,232.53 368.30,233.22" fill="#f01010"/>
<line x1="393.88" y1="228.38" x2="392.92" y2="237.82" stroke="#0a14f5" stroke-width="1.9"/><polygon points="392.60,241.00 390.32,236.75 395.69,237.29" fill="#0a14f5"/><polygon points="394.20,225.20 391.11,228.91 396.48,229.45" fill="#0a14f5"/>
<line x1="458.90" y1="227.39" x2="457.90" y2="237.81" stroke="#f01010" stroke-width="1.9"/><polygon points="457.60,241.00 455.29,236.76 460.67,237.27" fill="#f01010"/><polygon points="459.20,224.20 456.13,227.93 461.51,228.44" fill="#f01010"/>
<line x1="24.28" y1="307.86" x2="35.52" y2="309.14" stroke="#0a14f5" stroke-width="1.9"/><polygon points="38.70,309.50 34.42,311.73 35.03,306.37" fill="#0a14f5"/><polygon points="21.10,307.50 24.77,310.63 25.38,305.27" fill="#0a14f5"/>
<line x1="80.38" y1="309.13" x2="91.32" y2="310.27" stroke="#f01010" stroke-width="1.9"/><polygon points="94.50,310.60 90.24,312.87 90.80,307.50" fill="#f01010"/><polygon points="77.20,308.80 80.90,311.90 81.46,306.53" fill="#f01010"/>
<ellipse cx="123.3" cy="308.9" rx="9.1" ry="3.6" transform="rotate(-12 123.3 308.9)" fill="none" stroke="#0a14f5" stroke-width="1.8"/><polygon points="120.52,305.82 118.00,309.14 116.39,305.25" fill="#0a14f5"/>
<ellipse cx="178.5" cy="308.4" rx="9.1" ry="3.6" transform="rotate(-12 178.5 308.4)" fill="none" stroke="#f01010" stroke-width="1.8"/><polygon points="182.64,304.32 179.18,306.66 178.91,302.47" fill="#f01010"/>
<ellipse cx="213.70000000000002" cy="311.5" rx="7.0" ry="7.0" transform="rotate(0 213.70000000000002 311.5)" fill="none" stroke="#0a14f5" stroke-width="1.8"/><polygon points="212.37,304.40 210.00,307.82 208.22,304.01" fill="#0a14f5"/>
<ellipse cx="272.29999999999995" cy="310.9" rx="7.0" ry="7.0" transform="rotate(0 272.29999999999995 310.9)" fill="none" stroke="#f01010" stroke-width="1.8"/><polygon points="276.39,304.94 272.28,305.68 273.72,301.73" fill="#f01010"/>
<ellipse cx="305.1" cy="311.79999999999995" rx="3.2" ry="7.9" transform="rotate(-4 305.1 311.79999999999995)" fill="none" stroke="#0a14f5" stroke-width="1.8"/><polygon points="308.36,311.32 305.66,308.14 309.79,307.40" fill="#0a14f5"/>
<ellipse cx="363.0" cy="310.6" rx="3.2" ry="7.7" transform="rotate(-4 363.0 310.6)" fill="none" stroke="#f01010" stroke-width="1.8"/><polygon points="365.74,316.02 364.26,312.13 368.40,312.82" fill="#f01010"/>
<line x1="394.48" y1="307.18" x2="393.52" y2="316.62" stroke="#0a14f5" stroke-width="1.9"/><polygon points="393.20,319.80 390.92,315.55 396.29,316.09" fill="#0a14f5"/><polygon points="394.80,304.00 391.71,307.71 397.08,308.25" fill="#0a14f5"/>
<line x1="459.50" y1="306.19" x2="458.50" y2="316.61" stroke="#f01010" stroke-width="1.9"/><polygon points="458.20,319.80 455.89,315.56 461.27,316.07" fill="#f01010"/><polygon points="459.80,303.00 456.73,306.73 462.11,307.24" fill="#f01010"/>
<text x="58.1" y="382.6" font-size="10.4" text-anchor="middle">2700</text>
<text x="151.3" y="384.4" font-size="10.4" text-anchor="middle">3055</text>
<text x="241.35" y="384.1" font-size="10.4" text-anchor="middle">3350</text>
<text x="339.4" y="384.4" font-size="10.4" text-anchor="middle">3600</text>
<text x="423.65" y="383.3" font-size="10.4" text-anchor="middle">3920</text>
<text x="241.3" y="399.5" font-size="10.3" text-anchor="middle">Wavelength (nm)</text>
<text x="481.5" y="222.3" font-size="14" font-weight="bold">e</text>
<text x="585.3" y="227.5" font-size="10.1" text-anchor="middle">Polarization contrast matrix</text>
<line x1="529.0" y1="233.5" x2="529.0" y2="367" stroke="#ececec" stroke-width="0.5"/>
<line x1="514.5" y1="247.0" x2="658.5" y2="247.0" stroke="#ececec" stroke-width="0.5"/>
<line x1="557.4" y1="233.5" x2="557.4" y2="367" stroke="#ececec" stroke-width="0.5"/>
<line x1="514.5" y1="273.79999999999995" x2="658.5" y2="273.79999999999995" stroke="#ececec" stroke-width="0.5"/>
<line x1="585.9" y1="233.5" x2="585.9" y2="367" stroke="#ececec" stroke-width="0.5"/>
<line x1="514.5" y1="300.59999999999997" x2="658.5" y2="300.59999999999997" stroke="#ececec" stroke-width="0.5"/>
<line x1="614.4" y1="233.5" x2="614.4" y2="367" stroke="#ececec" stroke-width="0.5"/>
<line x1="514.5" y1="327.4" x2="658.5" y2="327.4" stroke="#ececec" stroke-width="0.5"/>
<line x1="642.9" y1="233.5" x2="642.9" y2="367" stroke="#ececec" stroke-width="0.5"/>
<line x1="514.5" y1="354.29999999999995" x2="658.5" y2="354.29999999999995" stroke="#ececec" stroke-width="0.5"/>
<rect x="518.0" y="236.6" width="21.8" height="20.8" fill="#f3736a" stroke="#9a9a9a" stroke-width="0.5"/>
<text x="528.9" y="250.9" font-size="10.1" text-anchor="middle">0.95</text>
<rect x="546.4" y="236.6" width="21.8" height="20.8" fill="#f7928b" stroke="#9a9a9a" stroke-width="0.5"/>
<rect x="574.9" y="236.6" width="21.8" height="20.8" fill="#f8b0aa" stroke="#9a9a9a" stroke-width="0.5"/>
<rect x="603.4" y="236.6" width="21.8" height="20.8" fill="#fdf5f4" stroke="#9a9a9a" stroke-width="0.5"/>
<rect x="631.9" y="236.6" width="21.8" height="20.8" fill="#fde0dd" stroke="#9a9a9a" stroke-width="0.5"/>
<rect x="518.0" y="263.4" width="21.8" height="20.8" fill="#f58a83" stroke="#9a9a9a" stroke-width="0.5"/>
<rect x="546.4" y="263.4" width="21.8" height="20.8" fill="#ee5f57" stroke="#9a9a9a" stroke-width="0.5"/>
<text x="557.3" y="277.7" font-size="10.1" text-anchor="middle">0.99</text>
<rect x="574.9" y="263.4" width="21.8" height="20.8" fill="#f6908a" stroke="#9a9a9a" stroke-width="0.5"/>
<rect x="603.4" y="263.4" width="21.8" height="20.8" fill="#fcd2cf" stroke="#9a9a9a" stroke-width="0.5"/>
<rect x="631.9" y="263.4" width="21.8" height="20.8" fill="#fdf0ee" stroke="#9a9a9a" stroke-width="0.5"/>
<rect x="518.0" y="290.2" width="21.8" height="20.8" fill="#fde0dd" stroke="#9a9a9a" stroke-width="0.5"/>
<rect x="546.4" y="290.2" width="21.8" height="20.8" fill="#f6948e" stroke="#9a9a9a" stroke-width="0.5"/>
<rect x="574.9" y="290.2" width="21.8" height="20.8" fill="#f3736a" stroke="#9a9a9a" stroke-width="0.5"/>
<text x="585.8" y="304.5" font-size="10.1" text-anchor="middle">0.96</text>
<rect x="603.4" y="290.2" width="21.8" height="20.8" fill="#f27068" stroke="#9a9a9a" stroke-width="0.5"/>
<rect x="631.9" y="290.2" width="21.8" height="20.8" fill="#fde0dd" stroke="#9a9a9a" stroke-width="0.5"/>
<rect x="518.0" y="317.0" width="21.8" height="20.8" fill="#fef6f5" stroke="#9a9a9a" stroke-width="0.5"/>
<rect x="546.4" y="317.0" width="21.8" height="20.8" fill="#fbc3bf" stroke="#9a9a9a" stroke-width="0.5"/>
<rect x="574.9" y="317.0" width="21.8" height="20.8" fill="#f79690" stroke="#9a9a9a" stroke-width="0.5"/>
<rect x="603.4" y="317.0" width="21.8" height="20.8" fill="#f3716a" stroke="#9a9a9a" stroke-width="0.5"/>
<text x="614.3" y="331.3" font-size="10.1" text-anchor="middle">0.97</text>
<rect x="631.9" y="317.0" width="21.8" height="20.8" fill="#f8a09a" stroke="#9a9a9a" stroke-width="0.5"/>
<rect x="518.0" y="343.9" width="21.8" height="20.8" fill="#fef8f7" stroke="#9a9a9a" stroke-width="0.5"/>
<rect x="546.4" y="343.9" width="21.8" height="20.8" fill="#fde2df" stroke="#9a9a9a" stroke-width="0.5"/>
<rect x="574.9" y="343.9" width="21.8" height="20.8" fill="#fde8e6" stroke="#9a9a9a" stroke-width="0.5"/>
<rect x="603.4" y="343.9" width="21.8" height="20.8" fill="#f8a29c" stroke="#9a9a9a" stroke-width="0.5"/>
<rect x="631.9" y="343.9" width="21.8" height="20.8" fill="#f26a62" stroke="#9a9a9a" stroke-width="0.5"/>
<text x="642.8" y="358.2" font-size="10.1" text-anchor="middle">0.96</text>
<rect x="514.4" y="233.2" width="144.3" height="134" fill="none" stroke="#111" stroke-width="1.2"/>
<line x1="528.9" y1="367.2" x2="528.9" y2="365" stroke="#111" stroke-width="0.8"/>
<line x1="514.4" y1="247.0" x2="516.6" y2="247.0" stroke="#111" stroke-width="0.8"/>
<line x1="557.3" y1="367.2" x2="557.3" y2="365" stroke="#111" stroke-width="0.8"/>
<line x1="514.4" y1="273.79999999999995" x2="516.6" y2="273.79999999999995" stroke="#111" stroke-width="0.8"/>
<line x1="585.8" y1="367.2" x2="585.8" y2="365" stroke="#111" stroke-width="0.8"/>
<line x1="514.4" y1="300.59999999999997" x2="516.6" y2="300.59999999999997" stroke="#111" stroke-width="0.8"/>
<line x1="614.3" y1="367.2" x2="614.3" y2="365" stroke="#111" stroke-width="0.8"/>
<line x1="514.4" y1="327.4" x2="516.6" y2="327.4" stroke="#111" stroke-width="0.8"/>
<line x1="642.8" y1="367.2" x2="642.8" y2="365" stroke="#111" stroke-width="0.8"/>
<line x1="514.4" y1="354.29999999999995" x2="516.6" y2="354.29999999999995" stroke="#111" stroke-width="0.8"/>
<text x="528.9" y="379.6" font-size="10.3" text-anchor="middle">2700</text>
<text x="557.3" y="379.6" font-size="10.3" text-anchor="middle">3055</text>
<text x="585.8" y="379.6" font-size="10.3" text-anchor="middle">3350</text>
<text x="614.3" y="379.6" font-size="10.3" text-anchor="middle">3600</text>
<text x="642.8" y="379.6" font-size="10.3" text-anchor="middle">3920</text>
<text x="586.5" y="395.5" font-size="10.3" text-anchor="middle">Wavelength (nm)</text>
<line x1="499.46" y1="248.62" x2="507.94" y2="249.58" stroke="#0a14f5" stroke-width="1.6"/><polygon points="510.80,249.90 506.95,251.88 507.49,247.11" fill="#0a14f5"/><polygon points="496.60,248.30 499.91,251.09 500.45,246.32" fill="#0a14f5"/>
<ellipse cx="503.9" cy="274.9" rx="6.3" ry="2.5" transform="rotate(-10 503.9 274.9)" fill="none" stroke="#0a14f5" stroke-width="1.5"/>
<ellipse cx="503.6" cy="302.3" rx="5.4" ry="5.4" transform="rotate(0 503.6 302.3)" fill="none" stroke="#0a14f5" stroke-width="1.6"/>
<ellipse cx="505.4" cy="327.4" rx="2.6" ry="6.3" transform="rotate(-4 505.4 327.4)" fill="none" stroke="#0a14f5" stroke-width="1.6"/>
<line x1="506.01" y1="351.20" x2="505.09" y2="359.80" stroke="#0a14f5" stroke-width="1.6"/><polygon points="504.80,362.50 502.88,358.87 507.45,359.36" fill="#0a14f5"/><polygon points="506.30,348.50 503.65,351.64 508.22,352.13" fill="#0a14f5"/>
<rect x="667.4" y="244" width="8.7" height="115.8" fill="url(#cb)" stroke="#777" stroke-width="0.6"/>
<line x1="674.6" y1="267.2" x2="676.1" y2="267.2" stroke="#777" stroke-width="0.5"/>
<line x1="674.6" y1="290.4" x2="676.1" y2="290.4" stroke="#777" stroke-width="0.5"/>
<line x1="674.6" y1="313.6" x2="676.1" y2="313.6" stroke="#777" stroke-width="0.5"/>
<line x1="674.6" y1="336.5" x2="676.1" y2="336.5" stroke="#777" stroke-width="0.5"/>
<text x="679.8" y="250.4" font-size="10.3">1</text><text x="679.8" y="364.1" font-size="10.3">0</text>
</svg></body></html>
